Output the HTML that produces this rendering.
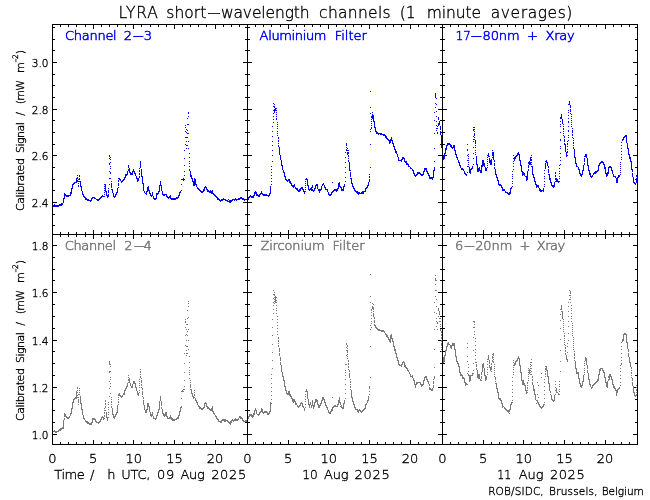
<!DOCTYPE html>
<html lang="en"><head><meta charset="utf-8"><title>LYRA short-wavelength channels</title>
<style>
html,body{margin:0;padding:0;background:#fff;}
body{width:650px;height:500px;overflow:hidden;}
svg{display:block;will-change:transform;}
svg text{font-family:"DejaVu Sans Light","DejaVu Sans","Liberation Sans",sans-serif;font-weight:200;stroke-width:0.35px;}
</style></head>
<body>
<svg width="650" height="500" viewBox="0 0 650 500">
<rect width="650" height="500" fill="#fff"/>
<g shape-rendering="crispEdges">
<rect x="52" y="24" width="1" height="421" fill="#000"/>
<rect x="247" y="24" width="1" height="421" fill="#000"/>
<rect x="442" y="24" width="1" height="421" fill="#000"/>
<rect x="637" y="24" width="1" height="421" fill="#000"/>
<rect x="52" y="24" width="586" height="1" fill="#000"/>
<rect x="52" y="234" width="586" height="1" fill="#000"/>
<rect x="52" y="444" width="586" height="1" fill="#000"/>
<rect x="60" y="25" width="1" height="2" fill="#000"/>
<rect x="60" y="232" width="1" height="5" fill="#000"/>
<rect x="60" y="442" width="1" height="2" fill="#000"/>
<rect x="68" y="25" width="1" height="2" fill="#000"/>
<rect x="68" y="232" width="1" height="5" fill="#000"/>
<rect x="68" y="442" width="1" height="2" fill="#000"/>
<rect x="76" y="25" width="1" height="2" fill="#000"/>
<rect x="76" y="232" width="1" height="5" fill="#000"/>
<rect x="76" y="442" width="1" height="2" fill="#000"/>
<rect x="85" y="25" width="1" height="2" fill="#000"/>
<rect x="85" y="232" width="1" height="5" fill="#000"/>
<rect x="85" y="442" width="1" height="2" fill="#000"/>
<rect x="93" y="25" width="1" height="4" fill="#000"/>
<rect x="93" y="230" width="1" height="9" fill="#000"/>
<rect x="93" y="440" width="1" height="4" fill="#000"/>
<rect x="101" y="25" width="1" height="2" fill="#000"/>
<rect x="101" y="232" width="1" height="5" fill="#000"/>
<rect x="101" y="442" width="1" height="2" fill="#000"/>
<rect x="109" y="25" width="1" height="2" fill="#000"/>
<rect x="109" y="232" width="1" height="5" fill="#000"/>
<rect x="109" y="442" width="1" height="2" fill="#000"/>
<rect x="117" y="25" width="1" height="2" fill="#000"/>
<rect x="117" y="232" width="1" height="5" fill="#000"/>
<rect x="117" y="442" width="1" height="2" fill="#000"/>
<rect x="125" y="25" width="1" height="2" fill="#000"/>
<rect x="125" y="232" width="1" height="5" fill="#000"/>
<rect x="125" y="442" width="1" height="2" fill="#000"/>
<rect x="133" y="25" width="1" height="4" fill="#000"/>
<rect x="133" y="230" width="1" height="9" fill="#000"/>
<rect x="133" y="440" width="1" height="4" fill="#000"/>
<rect x="141" y="25" width="1" height="2" fill="#000"/>
<rect x="141" y="232" width="1" height="5" fill="#000"/>
<rect x="141" y="442" width="1" height="2" fill="#000"/>
<rect x="150" y="25" width="1" height="2" fill="#000"/>
<rect x="150" y="232" width="1" height="5" fill="#000"/>
<rect x="150" y="442" width="1" height="2" fill="#000"/>
<rect x="158" y="25" width="1" height="2" fill="#000"/>
<rect x="158" y="232" width="1" height="5" fill="#000"/>
<rect x="158" y="442" width="1" height="2" fill="#000"/>
<rect x="166" y="25" width="1" height="2" fill="#000"/>
<rect x="166" y="232" width="1" height="5" fill="#000"/>
<rect x="166" y="442" width="1" height="2" fill="#000"/>
<rect x="174" y="25" width="1" height="4" fill="#000"/>
<rect x="174" y="230" width="1" height="9" fill="#000"/>
<rect x="174" y="440" width="1" height="4" fill="#000"/>
<rect x="182" y="25" width="1" height="2" fill="#000"/>
<rect x="182" y="232" width="1" height="5" fill="#000"/>
<rect x="182" y="442" width="1" height="2" fill="#000"/>
<rect x="190" y="25" width="1" height="2" fill="#000"/>
<rect x="190" y="232" width="1" height="5" fill="#000"/>
<rect x="190" y="442" width="1" height="2" fill="#000"/>
<rect x="198" y="25" width="1" height="2" fill="#000"/>
<rect x="198" y="232" width="1" height="5" fill="#000"/>
<rect x="198" y="442" width="1" height="2" fill="#000"/>
<rect x="206" y="25" width="1" height="2" fill="#000"/>
<rect x="206" y="232" width="1" height="5" fill="#000"/>
<rect x="206" y="442" width="1" height="2" fill="#000"/>
<rect x="215" y="25" width="1" height="4" fill="#000"/>
<rect x="215" y="230" width="1" height="9" fill="#000"/>
<rect x="215" y="440" width="1" height="4" fill="#000"/>
<rect x="223" y="25" width="1" height="2" fill="#000"/>
<rect x="223" y="232" width="1" height="5" fill="#000"/>
<rect x="223" y="442" width="1" height="2" fill="#000"/>
<rect x="231" y="25" width="1" height="2" fill="#000"/>
<rect x="231" y="232" width="1" height="5" fill="#000"/>
<rect x="231" y="442" width="1" height="2" fill="#000"/>
<rect x="239" y="25" width="1" height="2" fill="#000"/>
<rect x="239" y="232" width="1" height="5" fill="#000"/>
<rect x="239" y="442" width="1" height="2" fill="#000"/>
<rect x="255" y="25" width="1" height="2" fill="#000"/>
<rect x="255" y="232" width="1" height="5" fill="#000"/>
<rect x="255" y="442" width="1" height="2" fill="#000"/>
<rect x="263" y="25" width="1" height="2" fill="#000"/>
<rect x="263" y="232" width="1" height="5" fill="#000"/>
<rect x="263" y="442" width="1" height="2" fill="#000"/>
<rect x="271" y="25" width="1" height="2" fill="#000"/>
<rect x="271" y="232" width="1" height="5" fill="#000"/>
<rect x="271" y="442" width="1" height="2" fill="#000"/>
<rect x="280" y="25" width="1" height="2" fill="#000"/>
<rect x="280" y="232" width="1" height="5" fill="#000"/>
<rect x="280" y="442" width="1" height="2" fill="#000"/>
<rect x="288" y="25" width="1" height="4" fill="#000"/>
<rect x="288" y="230" width="1" height="9" fill="#000"/>
<rect x="288" y="440" width="1" height="4" fill="#000"/>
<rect x="296" y="25" width="1" height="2" fill="#000"/>
<rect x="296" y="232" width="1" height="5" fill="#000"/>
<rect x="296" y="442" width="1" height="2" fill="#000"/>
<rect x="304" y="25" width="1" height="2" fill="#000"/>
<rect x="304" y="232" width="1" height="5" fill="#000"/>
<rect x="304" y="442" width="1" height="2" fill="#000"/>
<rect x="312" y="25" width="1" height="2" fill="#000"/>
<rect x="312" y="232" width="1" height="5" fill="#000"/>
<rect x="312" y="442" width="1" height="2" fill="#000"/>
<rect x="320" y="25" width="1" height="2" fill="#000"/>
<rect x="320" y="232" width="1" height="5" fill="#000"/>
<rect x="320" y="442" width="1" height="2" fill="#000"/>
<rect x="328" y="25" width="1" height="4" fill="#000"/>
<rect x="328" y="230" width="1" height="9" fill="#000"/>
<rect x="328" y="440" width="1" height="4" fill="#000"/>
<rect x="336" y="25" width="1" height="2" fill="#000"/>
<rect x="336" y="232" width="1" height="5" fill="#000"/>
<rect x="336" y="442" width="1" height="2" fill="#000"/>
<rect x="345" y="25" width="1" height="2" fill="#000"/>
<rect x="345" y="232" width="1" height="5" fill="#000"/>
<rect x="345" y="442" width="1" height="2" fill="#000"/>
<rect x="353" y="25" width="1" height="2" fill="#000"/>
<rect x="353" y="232" width="1" height="5" fill="#000"/>
<rect x="353" y="442" width="1" height="2" fill="#000"/>
<rect x="361" y="25" width="1" height="2" fill="#000"/>
<rect x="361" y="232" width="1" height="5" fill="#000"/>
<rect x="361" y="442" width="1" height="2" fill="#000"/>
<rect x="369" y="25" width="1" height="4" fill="#000"/>
<rect x="369" y="230" width="1" height="9" fill="#000"/>
<rect x="369" y="440" width="1" height="4" fill="#000"/>
<rect x="377" y="25" width="1" height="2" fill="#000"/>
<rect x="377" y="232" width="1" height="5" fill="#000"/>
<rect x="377" y="442" width="1" height="2" fill="#000"/>
<rect x="385" y="25" width="1" height="2" fill="#000"/>
<rect x="385" y="232" width="1" height="5" fill="#000"/>
<rect x="385" y="442" width="1" height="2" fill="#000"/>
<rect x="393" y="25" width="1" height="2" fill="#000"/>
<rect x="393" y="232" width="1" height="5" fill="#000"/>
<rect x="393" y="442" width="1" height="2" fill="#000"/>
<rect x="401" y="25" width="1" height="2" fill="#000"/>
<rect x="401" y="232" width="1" height="5" fill="#000"/>
<rect x="401" y="442" width="1" height="2" fill="#000"/>
<rect x="410" y="25" width="1" height="4" fill="#000"/>
<rect x="410" y="230" width="1" height="9" fill="#000"/>
<rect x="410" y="440" width="1" height="4" fill="#000"/>
<rect x="418" y="25" width="1" height="2" fill="#000"/>
<rect x="418" y="232" width="1" height="5" fill="#000"/>
<rect x="418" y="442" width="1" height="2" fill="#000"/>
<rect x="426" y="25" width="1" height="2" fill="#000"/>
<rect x="426" y="232" width="1" height="5" fill="#000"/>
<rect x="426" y="442" width="1" height="2" fill="#000"/>
<rect x="434" y="25" width="1" height="2" fill="#000"/>
<rect x="434" y="232" width="1" height="5" fill="#000"/>
<rect x="434" y="442" width="1" height="2" fill="#000"/>
<rect x="450" y="25" width="1" height="2" fill="#000"/>
<rect x="450" y="232" width="1" height="5" fill="#000"/>
<rect x="450" y="442" width="1" height="2" fill="#000"/>
<rect x="458" y="25" width="1" height="2" fill="#000"/>
<rect x="458" y="232" width="1" height="5" fill="#000"/>
<rect x="458" y="442" width="1" height="2" fill="#000"/>
<rect x="466" y="25" width="1" height="2" fill="#000"/>
<rect x="466" y="232" width="1" height="5" fill="#000"/>
<rect x="466" y="442" width="1" height="2" fill="#000"/>
<rect x="475" y="25" width="1" height="2" fill="#000"/>
<rect x="475" y="232" width="1" height="5" fill="#000"/>
<rect x="475" y="442" width="1" height="2" fill="#000"/>
<rect x="483" y="25" width="1" height="4" fill="#000"/>
<rect x="483" y="230" width="1" height="9" fill="#000"/>
<rect x="483" y="440" width="1" height="4" fill="#000"/>
<rect x="491" y="25" width="1" height="2" fill="#000"/>
<rect x="491" y="232" width="1" height="5" fill="#000"/>
<rect x="491" y="442" width="1" height="2" fill="#000"/>
<rect x="499" y="25" width="1" height="2" fill="#000"/>
<rect x="499" y="232" width="1" height="5" fill="#000"/>
<rect x="499" y="442" width="1" height="2" fill="#000"/>
<rect x="507" y="25" width="1" height="2" fill="#000"/>
<rect x="507" y="232" width="1" height="5" fill="#000"/>
<rect x="507" y="442" width="1" height="2" fill="#000"/>
<rect x="515" y="25" width="1" height="2" fill="#000"/>
<rect x="515" y="232" width="1" height="5" fill="#000"/>
<rect x="515" y="442" width="1" height="2" fill="#000"/>
<rect x="523" y="25" width="1" height="4" fill="#000"/>
<rect x="523" y="230" width="1" height="9" fill="#000"/>
<rect x="523" y="440" width="1" height="4" fill="#000"/>
<rect x="531" y="25" width="1" height="2" fill="#000"/>
<rect x="531" y="232" width="1" height="5" fill="#000"/>
<rect x="531" y="442" width="1" height="2" fill="#000"/>
<rect x="540" y="25" width="1" height="2" fill="#000"/>
<rect x="540" y="232" width="1" height="5" fill="#000"/>
<rect x="540" y="442" width="1" height="2" fill="#000"/>
<rect x="548" y="25" width="1" height="2" fill="#000"/>
<rect x="548" y="232" width="1" height="5" fill="#000"/>
<rect x="548" y="442" width="1" height="2" fill="#000"/>
<rect x="556" y="25" width="1" height="2" fill="#000"/>
<rect x="556" y="232" width="1" height="5" fill="#000"/>
<rect x="556" y="442" width="1" height="2" fill="#000"/>
<rect x="564" y="25" width="1" height="4" fill="#000"/>
<rect x="564" y="230" width="1" height="9" fill="#000"/>
<rect x="564" y="440" width="1" height="4" fill="#000"/>
<rect x="572" y="25" width="1" height="2" fill="#000"/>
<rect x="572" y="232" width="1" height="5" fill="#000"/>
<rect x="572" y="442" width="1" height="2" fill="#000"/>
<rect x="580" y="25" width="1" height="2" fill="#000"/>
<rect x="580" y="232" width="1" height="5" fill="#000"/>
<rect x="580" y="442" width="1" height="2" fill="#000"/>
<rect x="588" y="25" width="1" height="2" fill="#000"/>
<rect x="588" y="232" width="1" height="5" fill="#000"/>
<rect x="588" y="442" width="1" height="2" fill="#000"/>
<rect x="596" y="25" width="1" height="2" fill="#000"/>
<rect x="596" y="232" width="1" height="5" fill="#000"/>
<rect x="596" y="442" width="1" height="2" fill="#000"/>
<rect x="605" y="25" width="1" height="4" fill="#000"/>
<rect x="605" y="230" width="1" height="9" fill="#000"/>
<rect x="605" y="440" width="1" height="4" fill="#000"/>
<rect x="613" y="25" width="1" height="2" fill="#000"/>
<rect x="613" y="232" width="1" height="5" fill="#000"/>
<rect x="613" y="442" width="1" height="2" fill="#000"/>
<rect x="621" y="25" width="1" height="2" fill="#000"/>
<rect x="621" y="232" width="1" height="5" fill="#000"/>
<rect x="621" y="442" width="1" height="2" fill="#000"/>
<rect x="629" y="25" width="1" height="2" fill="#000"/>
<rect x="629" y="232" width="1" height="5" fill="#000"/>
<rect x="629" y="442" width="1" height="2" fill="#000"/>
<rect x="53" y="225" width="2" height="1" fill="#000"/>
<rect x="245" y="225" width="5" height="1" fill="#000"/>
<rect x="440" y="225" width="5" height="1" fill="#000"/>
<rect x="635" y="225" width="2" height="1" fill="#000"/>
<rect x="53" y="214" width="2" height="1" fill="#000"/>
<rect x="245" y="214" width="5" height="1" fill="#000"/>
<rect x="440" y="214" width="5" height="1" fill="#000"/>
<rect x="635" y="214" width="2" height="1" fill="#000"/>
<rect x="53" y="202" width="4" height="1" fill="#000"/>
<rect x="243" y="202" width="9" height="1" fill="#000"/>
<rect x="438" y="202" width="9" height="1" fill="#000"/>
<rect x="633" y="202" width="4" height="1" fill="#000"/>
<rect x="53" y="190" width="2" height="1" fill="#000"/>
<rect x="245" y="190" width="5" height="1" fill="#000"/>
<rect x="440" y="190" width="5" height="1" fill="#000"/>
<rect x="635" y="190" width="2" height="1" fill="#000"/>
<rect x="53" y="179" width="2" height="1" fill="#000"/>
<rect x="245" y="179" width="5" height="1" fill="#000"/>
<rect x="440" y="179" width="5" height="1" fill="#000"/>
<rect x="635" y="179" width="2" height="1" fill="#000"/>
<rect x="53" y="167" width="2" height="1" fill="#000"/>
<rect x="245" y="167" width="5" height="1" fill="#000"/>
<rect x="440" y="167" width="5" height="1" fill="#000"/>
<rect x="635" y="167" width="2" height="1" fill="#000"/>
<rect x="53" y="155" width="4" height="1" fill="#000"/>
<rect x="243" y="155" width="9" height="1" fill="#000"/>
<rect x="438" y="155" width="9" height="1" fill="#000"/>
<rect x="633" y="155" width="4" height="1" fill="#000"/>
<rect x="53" y="144" width="2" height="1" fill="#000"/>
<rect x="245" y="144" width="5" height="1" fill="#000"/>
<rect x="440" y="144" width="5" height="1" fill="#000"/>
<rect x="635" y="144" width="2" height="1" fill="#000"/>
<rect x="53" y="132" width="2" height="1" fill="#000"/>
<rect x="245" y="132" width="5" height="1" fill="#000"/>
<rect x="440" y="132" width="5" height="1" fill="#000"/>
<rect x="635" y="132" width="2" height="1" fill="#000"/>
<rect x="53" y="120" width="2" height="1" fill="#000"/>
<rect x="245" y="120" width="5" height="1" fill="#000"/>
<rect x="440" y="120" width="5" height="1" fill="#000"/>
<rect x="635" y="120" width="2" height="1" fill="#000"/>
<rect x="53" y="109" width="4" height="1" fill="#000"/>
<rect x="243" y="109" width="9" height="1" fill="#000"/>
<rect x="438" y="109" width="9" height="1" fill="#000"/>
<rect x="633" y="109" width="4" height="1" fill="#000"/>
<rect x="53" y="97" width="2" height="1" fill="#000"/>
<rect x="245" y="97" width="5" height="1" fill="#000"/>
<rect x="440" y="97" width="5" height="1" fill="#000"/>
<rect x="635" y="97" width="2" height="1" fill="#000"/>
<rect x="53" y="85" width="2" height="1" fill="#000"/>
<rect x="245" y="85" width="5" height="1" fill="#000"/>
<rect x="440" y="85" width="5" height="1" fill="#000"/>
<rect x="635" y="85" width="2" height="1" fill="#000"/>
<rect x="53" y="74" width="2" height="1" fill="#000"/>
<rect x="245" y="74" width="5" height="1" fill="#000"/>
<rect x="440" y="74" width="5" height="1" fill="#000"/>
<rect x="635" y="74" width="2" height="1" fill="#000"/>
<rect x="53" y="62" width="4" height="1" fill="#000"/>
<rect x="243" y="62" width="9" height="1" fill="#000"/>
<rect x="438" y="62" width="9" height="1" fill="#000"/>
<rect x="633" y="62" width="4" height="1" fill="#000"/>
<rect x="53" y="50" width="2" height="1" fill="#000"/>
<rect x="245" y="50" width="5" height="1" fill="#000"/>
<rect x="440" y="50" width="5" height="1" fill="#000"/>
<rect x="635" y="50" width="2" height="1" fill="#000"/>
<rect x="53" y="39" width="2" height="1" fill="#000"/>
<rect x="245" y="39" width="5" height="1" fill="#000"/>
<rect x="440" y="39" width="5" height="1" fill="#000"/>
<rect x="635" y="39" width="2" height="1" fill="#000"/>
<rect x="53" y="27" width="2" height="1" fill="#000"/>
<rect x="245" y="27" width="5" height="1" fill="#000"/>
<rect x="440" y="27" width="5" height="1" fill="#000"/>
<rect x="635" y="27" width="2" height="1" fill="#000"/>
<rect x="53" y="434" width="4" height="1" fill="#000"/>
<rect x="243" y="434" width="9" height="1" fill="#000"/>
<rect x="438" y="434" width="9" height="1" fill="#000"/>
<rect x="633" y="434" width="4" height="1" fill="#000"/>
<rect x="53" y="422" width="2" height="1" fill="#000"/>
<rect x="245" y="422" width="5" height="1" fill="#000"/>
<rect x="440" y="422" width="5" height="1" fill="#000"/>
<rect x="635" y="422" width="2" height="1" fill="#000"/>
<rect x="53" y="410" width="2" height="1" fill="#000"/>
<rect x="245" y="410" width="5" height="1" fill="#000"/>
<rect x="440" y="410" width="5" height="1" fill="#000"/>
<rect x="635" y="410" width="2" height="1" fill="#000"/>
<rect x="53" y="399" width="2" height="1" fill="#000"/>
<rect x="245" y="399" width="5" height="1" fill="#000"/>
<rect x="440" y="399" width="5" height="1" fill="#000"/>
<rect x="635" y="399" width="2" height="1" fill="#000"/>
<rect x="53" y="387" width="4" height="1" fill="#000"/>
<rect x="243" y="387" width="9" height="1" fill="#000"/>
<rect x="438" y="387" width="9" height="1" fill="#000"/>
<rect x="633" y="387" width="4" height="1" fill="#000"/>
<rect x="53" y="375" width="2" height="1" fill="#000"/>
<rect x="245" y="375" width="5" height="1" fill="#000"/>
<rect x="440" y="375" width="5" height="1" fill="#000"/>
<rect x="635" y="375" width="2" height="1" fill="#000"/>
<rect x="53" y="363" width="2" height="1" fill="#000"/>
<rect x="245" y="363" width="5" height="1" fill="#000"/>
<rect x="440" y="363" width="5" height="1" fill="#000"/>
<rect x="635" y="363" width="2" height="1" fill="#000"/>
<rect x="53" y="351" width="2" height="1" fill="#000"/>
<rect x="245" y="351" width="5" height="1" fill="#000"/>
<rect x="440" y="351" width="5" height="1" fill="#000"/>
<rect x="635" y="351" width="2" height="1" fill="#000"/>
<rect x="53" y="340" width="4" height="1" fill="#000"/>
<rect x="243" y="340" width="9" height="1" fill="#000"/>
<rect x="438" y="340" width="9" height="1" fill="#000"/>
<rect x="633" y="340" width="4" height="1" fill="#000"/>
<rect x="53" y="328" width="2" height="1" fill="#000"/>
<rect x="245" y="328" width="5" height="1" fill="#000"/>
<rect x="440" y="328" width="5" height="1" fill="#000"/>
<rect x="635" y="328" width="2" height="1" fill="#000"/>
<rect x="53" y="316" width="2" height="1" fill="#000"/>
<rect x="245" y="316" width="5" height="1" fill="#000"/>
<rect x="440" y="316" width="5" height="1" fill="#000"/>
<rect x="635" y="316" width="2" height="1" fill="#000"/>
<rect x="53" y="304" width="2" height="1" fill="#000"/>
<rect x="245" y="304" width="5" height="1" fill="#000"/>
<rect x="440" y="304" width="5" height="1" fill="#000"/>
<rect x="635" y="304" width="2" height="1" fill="#000"/>
<rect x="53" y="292" width="4" height="1" fill="#000"/>
<rect x="243" y="292" width="9" height="1" fill="#000"/>
<rect x="438" y="292" width="9" height="1" fill="#000"/>
<rect x="633" y="292" width="4" height="1" fill="#000"/>
<rect x="53" y="280" width="2" height="1" fill="#000"/>
<rect x="245" y="280" width="5" height="1" fill="#000"/>
<rect x="440" y="280" width="5" height="1" fill="#000"/>
<rect x="635" y="280" width="2" height="1" fill="#000"/>
<rect x="53" y="269" width="2" height="1" fill="#000"/>
<rect x="245" y="269" width="5" height="1" fill="#000"/>
<rect x="440" y="269" width="5" height="1" fill="#000"/>
<rect x="635" y="269" width="2" height="1" fill="#000"/>
<rect x="53" y="257" width="2" height="1" fill="#000"/>
<rect x="245" y="257" width="5" height="1" fill="#000"/>
<rect x="440" y="257" width="5" height="1" fill="#000"/>
<rect x="635" y="257" width="2" height="1" fill="#000"/>
<rect x="53" y="245" width="4" height="1" fill="#000"/>
<rect x="243" y="245" width="9" height="1" fill="#000"/>
<rect x="438" y="245" width="9" height="1" fill="#000"/>
<rect x="633" y="245" width="4" height="1" fill="#000"/>
</g>
<g shape-rendering="crispEdges">
<path d="M53 205h1M53 206h1M54 204h1M54 205h1M54 206h1M55 205h1M55 206h1M56 205h1M56 206h1M57 205h1M57 206h1M58 205h1M58 206h1M59 204h1M59 205h1M60 204h1M60 205h1M61 203h1M61 204h1M61 205h1M62 203h1M62 204h1M63 198h1M63 199h1M63 200h1M63 201h1M63 202h1M64 193h1M64 194h1M64 195h1M64 196h1M64 197h1M64 198h1M65 194h1M65 195h1M66 195h1M66 196h1M67 195h1M67 196h1M68 195h1M68 196h1M69 195h1M70 192h1M70 193h1M70 194h1M70 195h1M71 188h1M71 189h1M71 190h1M71 191h1M71 192h1M71 193h1M72 184h1M72 185h1M72 186h1M72 187h1M72 188h1M73 183h1M73 184h1M74 182h1M74 183h1M75 182h1M76 178h1M76 179h1M76 180h1M76 181h1M76 182h1M77 175h1M77 177h1M77 178h1M77 180h1M77 181h1M78 179h1M78 181h1M78 183h1M78 185h1M78 186h1M79 175h1M79 176h1M79 178h1M79 179h1M79 181h1M80 181h1M80 182h1M80 183h1M80 184h1M80 185h1M80 186h1M81 186h1M81 187h1M81 188h1M81 189h1M81 190h1M82 191h1M82 192h1M82 193h1M82 194h1M83 194h1M83 195h1M83 196h1M84 196h1M84 197h1M85 197h1M85 198h1M85 199h1M86 198h1M86 199h1M87 199h1M87 200h1M88 199h1M88 200h1M89 200h1M90 200h1M90 201h1M91 198h1M91 199h1M91 200h1M92 197h1M92 198h1M93 197h1M94 197h1M94 198h1M95 198h1M96 199h1M97 199h1M97 200h1M98 199h1M98 200h1M99 198h1M99 199h1M100 197h1M100 198h1M101 196h1M101 197h1M102 195h1M102 196h1M103 196h1M104 184h1M104 186h1M104 188h1M104 190h1M104 192h1M104 194h1M104 196h1M105 184h1M105 185h1M105 186h1M105 187h1M105 188h1M105 189h1M105 190h1M105 191h1M106 191h1M106 192h1M106 193h1M106 194h1M106 195h1M107 195h1M107 196h1M107 197h1M108 188h1M108 190h1M108 191h1M108 192h1M108 194h1M108 195h1M108 196h1M109 155h1M109 156h1M109 158h1M109 163h1M109 164h1M109 171h1M109 178h1M109 184h1M110 157h1M110 159h1M110 162h1M110 166h1M110 168h1M110 172h1M110 173h1M110 178h1M111 181h1M111 183h1M111 184h1M111 185h1M111 186h1M111 187h1M111 189h1M112 189h1M112 190h1M112 191h1M112 192h1M113 193h1M113 194h1M113 195h1M113 196h1M114 196h1M114 197h1M115 194h1M115 195h1M115 196h1M116 192h1M116 193h1M116 194h1M117 188h1M117 189h1M117 190h1M117 191h1M117 192h1M118 178h1M118 180h1M118 181h1M118 183h1M118 184h1M118 185h1M118 187h1M119 178h1M119 179h1M120 179h1M120 180h1M121 181h1M121 182h1M122 180h1M122 181h1M123 179h1M123 180h1M124 177h1M124 178h1M124 179h1M125 174h1M125 175h1M125 176h1M125 177h1M126 174h1M126 175h1M127 171h1M127 172h1M127 173h1M127 174h1M128 165h1M128 166h1M128 167h1M128 169h1M128 170h1M129 168h1M129 169h1M129 170h1M129 171h1M129 172h1M130 172h1M130 173h1M130 174h1M131 173h1M131 174h1M132 171h1M132 172h1M132 173h1M132 174h1M133 169h1M133 170h1M133 171h1M134 171h1M134 172h1M134 173h1M135 173h1M135 174h1M135 175h1M136 176h1M136 177h1M136 178h1M137 178h1M137 179h1M137 180h1M137 181h1M138 178h1M138 179h1M138 180h1M139 168h1M139 170h1M139 171h1M139 173h1M139 174h1M139 176h1M139 177h1M140 161h1M140 162h1M140 163h1M140 164h1M140 165h1M140 166h1M140 167h1M141 169h1M141 170h1M141 171h1M141 172h1M141 173h1M141 174h1M141 175h1M141 176h1M142 176h1M142 177h1M142 178h1M142 179h1M142 180h1M142 181h1M142 182h1M142 183h1M143 183h1M143 184h1M143 185h1M143 186h1M143 187h1M143 188h1M143 189h1M143 190h1M144 191h1M144 192h1M145 193h1M146 191h1M146 192h1M146 193h1M146 194h1M147 187h1M147 188h1M147 189h1M147 190h1M147 191h1M148 186h1M148 187h1M148 188h1M148 189h1M148 190h1M149 190h1M149 191h1M149 192h1M149 193h1M150 193h1M150 194h1M150 195h1M151 195h1M151 196h1M152 192h1M152 193h1M152 194h1M152 195h1M153 196h1M153 197h1M153 198h1M154 198h1M154 199h1M155 198h1M155 199h1M156 193h1M156 194h1M156 195h1M156 196h1M156 197h1M156 198h1M157 193h1M157 194h1M158 191h1M158 192h1M158 193h1M159 185h1M159 186h1M159 187h1M159 188h1M159 189h1M159 190h1M159 191h1M160 181h1M160 182h1M160 183h1M160 184h1M160 185h1M161 185h1M161 186h1M161 187h1M161 188h1M161 189h1M161 190h1M162 191h1M162 192h1M162 193h1M162 194h1M163 194h1M163 195h1M164 194h1M164 195h1M165 194h1M166 194h1M166 195h1M166 196h1M167 196h1M167 197h1M168 197h1M168 198h1M169 196h1M169 197h1M170 195h1M170 196h1M170 197h1M170 198h1M171 198h1M171 199h1M172 198h1M172 199h1M173 198h1M173 199h1M174 198h1M174 199h1M175 198h1M175 199h1M176 197h1M176 198h1M177 197h1M177 198h1M178 195h1M178 196h1M178 197h1M179 192h1M179 193h1M179 194h1M179 195h1M180 191h1M180 192h1M181 179h1M181 184h1M181 190h1M182 179h1M183 178h1M183 179h1M183 180h1M184 150h1M184 158h1M184 165h1M184 171h1M184 175h1M184 179h1M185 125h1M185 127h1M185 131h1M185 137h1M185 144h1M186 129h1M186 132h1M186 137h1M186 141h1M186 145h1M186 148h1M187 118h1M187 124h1M187 130h1M187 133h1M187 137h1M187 145h1M188 112h1M188 113h1M188 116h1M188 124h1M188 133h1M188 141h1M188 148h1M189 153h1M189 157h1M189 161h1M189 163h1M189 166h1M189 169h1M189 170h1M190 171h1M190 172h1M190 173h1M190 174h1M190 175h1M190 176h1M191 175h1M191 176h1M191 177h1M191 178h1M192 178h1M192 179h1M192 180h1M192 181h1M193 181h1M193 182h1M193 183h1M193 184h1M193 185h1M194 178h1M194 179h1M194 180h1M194 181h1M194 182h1M194 183h1M194 184h1M194 185h1M195 179h1M195 180h1M195 181h1M195 182h1M195 183h1M195 184h1M196 184h1M196 185h1M196 186h1M197 187h1M197 188h1M198 188h1M198 189h1M199 189h1M199 190h1M200 190h1M200 191h1M201 191h1M201 192h1M202 191h1M202 192h1M203 189h1M203 190h1M203 191h1M204 187h1M204 188h1M204 189h1M204 190h1M205 186h1M205 187h1M206 187h1M206 188h1M206 189h1M207 189h1M207 190h1M207 191h1M208 190h1M208 191h1M209 191h1M209 192h1M210 190h1M210 191h1M210 192h1M211 191h1M211 192h1M211 193h1M212 190h1M212 191h1M212 192h1M212 193h1M213 193h1M213 194h1M214 194h1M214 195h1M215 195h1M215 196h1M216 196h1M216 197h1M217 197h1M217 198h1M217 199h1M218 198h1M218 199h1M219 199h1M219 200h1M220 200h1M220 201h1M221 199h1M221 200h1M222 199h1M222 200h1M223 198h1M223 199h1M224 199h1M225 199h1M225 200h1M226 200h1M227 200h1M227 201h1M228 199h1M228 201h1M229 200h1M229 201h1M229 202h1M230 200h1M230 201h1M230 202h1M231 200h1M231 201h1M232 199h1M232 200h1M233 199h1M234 199h1M234 200h1M235 198h1M235 199h1M236 199h1M236 200h1M237 199h1M238 198h1M238 199h1M239 198h1M239 199h1M240 197h1M240 198h1M241 197h1M241 198h1M242 198h1M242 199h1M243 198h1M243 199h1M244 199h1M244 200h1M245 199h1M246 199h1" stroke="#0000ff" stroke-width="1" fill="none" transform="translate(0,0.5)"/>
<path d="M248 197h1M248 198h1M248 199h1M249 196h1M249 197h1M250 195h1M250 196h1M251 196h1M251 197h1M252 196h1M252 197h1M253 195h1M253 196h1M253 197h1M254 192h1M254 193h1M254 194h1M254 195h1M255 191h1M255 192h1M255 193h1M256 192h1M256 193h1M256 194h1M256 195h1M257 194h1M257 195h1M258 195h1M258 196h1M259 194h1M259 195h1M259 196h1M260 193h1M260 194h1M261 191h1M261 192h1M261 193h1M262 193h1M262 194h1M263 194h1M263 195h1M264 194h1M264 195h1M265 194h1M265 195h1M266 194h1M266 195h1M267 195h1M268 195h1M268 196h1M269 193h1M269 194h1M269 195h1M270 186h1M270 187h1M270 188h1M270 189h1M270 190h1M270 191h1M270 192h1M270 193h1M271 166h1M271 169h1M271 172h1M271 175h1M271 178h1M271 181h1M271 184h1M272 126h1M272 131h1M272 136h1M272 141h1M272 145h1M272 150h1M272 155h1M272 161h1M273 103h1M273 106h1M273 110h1M273 113h1M273 116h1M273 119h1M273 122h1M274 104h1M274 106h1M274 107h1M274 109h1M274 110h1M274 111h1M274 112h1M275 108h1M275 109h1M275 110h1M276 108h1M276 110h1M276 112h1M276 114h1M276 116h1M276 118h1M276 119h1M277 122h1M277 124h1M277 126h1M277 128h1M277 131h1M277 133h1M277 135h1M278 137h1M278 138h1M278 140h1M278 141h1M278 143h1M278 145h1M278 146h1M279 147h1M279 148h1M279 149h1M279 150h1M279 151h1M279 152h1M279 153h1M279 154h1M280 155h1M280 156h1M280 157h1M280 158h1M280 159h1M281 160h1M281 161h1M281 162h1M281 163h1M281 164h1M281 165h1M282 165h1M282 166h1M282 167h1M282 168h1M282 169h1M283 170h1M283 171h1M283 172h1M284 172h1M284 173h1M284 174h1M284 175h1M284 176h1M285 176h1M285 177h1M285 178h1M285 179h1M286 179h1M286 180h1M287 180h1M287 181h1M288 179h1M288 180h1M289 179h1M289 180h1M289 181h1M289 182h1M290 181h1M290 182h1M290 183h1M291 183h1M291 184h1M291 185h1M292 185h1M292 186h1M293 185h1M293 186h1M293 187h1M294 184h1M294 185h1M294 186h1M295 187h1M295 188h1M296 188h1M296 189h1M297 188h1M297 189h1M297 190h1M298 190h1M298 191h1M299 189h1M299 190h1M299 191h1M300 188h1M300 189h1M300 190h1M301 187h1M301 188h1M302 187h1M302 188h1M302 189h1M303 189h1M303 190h1M303 191h1M304 191h1M304 192h1M304 193h1M305 179h1M305 181h1M305 183h1M305 185h1M305 187h1M305 189h1M305 191h1M306 178h1M306 179h1M307 179h1M307 180h1M307 181h1M307 182h1M307 183h1M307 184h1M307 185h1M308 185h1M308 186h1M308 187h1M308 188h1M308 189h1M309 189h1M309 190h1M310 188h1M310 189h1M311 187h1M311 188h1M311 189h1M311 190h1M312 185h1M312 186h1M312 187h1M312 189h1M312 190h1M313 190h1M313 191h1M314 188h1M314 189h1M314 190h1M315 185h1M315 186h1M315 187h1M315 188h1M316 184h1M316 185h1M317 184h1M317 185h1M317 186h1M317 187h1M317 188h1M318 189h1M318 190h1M319 189h1M319 190h1M319 191h1M319 192h1M320 189h1M320 190h1M321 186h1M321 187h1M321 188h1M321 189h1M322 184h1M322 185h1M323 183h1M323 184h1M324 185h1M324 186h1M324 187h1M325 187h1M325 188h1M325 189h1M326 189h1M327 189h1M327 190h1M327 191h1M328 192h1M328 193h1M328 194h1M329 194h1M329 195h1M330 194h1M330 195h1M331 192h1M331 193h1M331 194h1M332 182h1M332 191h1M332 192h1M333 190h1M333 191h1M334 189h1M334 190h1M335 189h1M335 190h1M336 189h1M336 190h1M336 191h1M337 188h1M337 189h1M337 190h1M338 183h1M338 184h1M338 185h1M338 186h1M338 187h1M338 188h1M339 182h1M339 183h1M339 184h1M339 185h1M339 186h1M340 186h1M340 187h1M341 187h1M341 188h1M341 189h1M341 190h1M342 189h1M342 190h1M343 186h1M343 187h1M343 188h1M343 189h1M343 190h1M344 184h1M344 185h1M344 186h1M345 152h1M345 157h1M345 162h1M345 167h1M345 172h1M345 177h1M345 181h1M346 143h1M346 144h1M346 145h1M346 147h1M346 149h1M346 150h1M347 148h1M347 150h1M347 152h1M347 153h1M347 154h1M348 150h1M348 152h1M348 153h1M348 155h1M348 156h1M348 158h1M348 160h1M348 161h1M349 162h1M349 163h1M349 164h1M349 165h1M349 166h1M349 167h1M349 168h1M349 169h1M349 170h1M350 170h1M350 172h1M350 173h1M350 174h1M350 175h1M350 176h1M350 178h1M351 178h1M351 179h1M351 180h1M351 181h1M351 182h1M351 183h1M352 183h1M352 184h1M352 185h1M352 186h1M353 186h1M353 187h1M353 188h1M354 188h1M354 189h1M354 190h1M355 190h1M355 191h1M356 191h1M356 192h1M357 191h1M357 192h1M357 193h1M358 192h1M358 193h1M358 194h1M359 192h1M359 193h1M360 193h1M361 192h1M361 193h1M362 191h1M362 192h1M362 193h1M363 191h1M363 192h1M363 193h1M364 191h1M365 188h1M365 189h1M365 190h1M365 191h1M366 187h1M366 188h1M367 185h1M367 186h1M367 187h1M368 182h1M368 183h1M368 184h1M368 185h1M369 174h1M369 176h1M369 177h1M369 179h1M369 180h1M369 181h1M370 91h1M370 107h1M370 113h1M370 129h1M370 131h1M370 144h1M370 167h1M371 116h1M371 117h1M371 119h1M371 121h1M371 123h1M371 125h1M371 127h1M371 128h1M372 112h1M372 114h1M372 115h1M372 116h1M372 117h1M372 118h1M373 115h1M373 116h1M373 117h1M373 118h1M373 119h1M373 120h1M373 121h1M374 121h1M374 122h1M374 123h1M374 124h1M374 125h1M374 126h1M374 127h1M375 127h1M375 128h1M375 129h1M375 130h1M375 131h1M376 131h1M376 132h1M376 133h1M377 132h1M377 133h1M378 133h1M378 134h1M379 133h1M380 133h1M380 134h1M381 133h1M381 134h1M382 134h1M383 134h1M383 135h1M384 134h1M384 135h1M385 135h1M385 136h1M385 137h1M386 136h1M386 137h1M386 138h1M387 138h1M387 139h1M388 139h1M388 140h1M389 140h1M389 141h1M389 142h1M389 143h1M390 139h1M390 140h1M390 141h1M390 142h1M391 137h1M391 138h1M391 139h1M391 140h1M392 140h1M392 141h1M392 142h1M392 143h1M393 143h1M393 144h1M393 145h1M393 146h1M394 146h1M394 147h1M394 148h1M394 149h1M395 149h1M395 150h1M395 151h1M395 152h1M396 151h1M396 152h1M396 153h1M397 154h1M397 155h1M397 156h1M398 157h1M398 158h1M398 159h1M398 160h1M399 160h1M400 160h1M401 159h1M401 160h1M401 161h1M402 157h1M402 158h1M402 159h1M403 157h1M403 158h1M404 158h1M404 159h1M404 160h1M404 161h1M405 161h1M405 162h1M406 161h1M406 162h1M406 163h1M406 164h1M407 163h1M407 164h1M408 164h1M408 165h1M408 166h1M409 166h1M410 167h1M410 168h1M411 168h1M412 169h1M412 170h1M413 170h1M413 171h1M413 172h1M413 173h1M414 173h1M414 174h1M414 175h1M415 175h1M415 176h1M416 174h1M416 175h1M417 172h1M417 173h1M417 174h1M418 172h1M418 173h1M419 172h1M419 173h1M420 173h1M420 174h1M421 174h1M421 175h1M422 174h1M422 175h1M423 171h1M423 172h1M423 173h1M423 174h1M424 168h1M424 169h1M424 170h1M424 171h1M425 168h1M425 169h1M426 168h1M426 169h1M426 170h1M426 171h1M427 171h1M427 172h1M427 173h1M428 173h1M428 174h1M428 175h1M429 175h1M429 176h1M429 177h1M429 178h1M430 177h1M430 178h1M431 177h1M431 178h1M432 177h1M432 178h1M432 179h1M433 170h1M433 171h1M433 172h1M433 173h1M433 174h1M433 175h1M433 176h1M433 177h1M434 112h1M434 120h1M434 133h1M434 148h1M434 161h1M434 167h1M434 168h1M434 169h1M434 170h1M435 93h1M435 94h1M435 95h1M435 96h1M435 97h1M435 103h1M435 107h1M436 98h1M436 104h1M436 111h1M436 116h1M436 121h1M436 125h1M436 128h1M436 130h1M437 126h1M437 128h1M437 132h1M437 133h1M438 117h1M438 118h1M438 119h1M438 123h1M438 124h1M438 125h1M439 121h1M439 122h1M439 123h1M439 124h1M440 126h1M440 127h1M440 128h1M440 129h1M440 131h1M440 132h1M440 133h1M440 134h1M441 135h1M441 136h1M441 137h1M441 138h1M441 139h1M441 140h1M441 141h1M441 142h1M441 143h1M441 144h1M441 145h1M441 146h1M441 147h1" stroke="#0000ff" stroke-width="1" fill="none" transform="translate(0,0.5)"/>
<path d="M443 155h1M443 156h1M443 157h1M443 158h1M443 159h1M444 153h1M444 154h1M444 155h1M444 156h1M444 157h1M444 158h1M445 148h1M445 149h1M445 150h1M445 151h1M445 152h1M445 153h1M446 145h1M446 146h1M446 147h1M446 148h1M446 149h1M447 143h1M447 144h1M447 145h1M448 143h1M448 144h1M449 143h1M449 144h1M450 144h1M450 145h1M450 146h1M451 145h1M451 146h1M451 147h1M452 147h1M452 148h1M453 145h1M453 146h1M453 147h1M454 145h1M454 146h1M454 147h1M454 148h1M454 149h1M454 150h1M455 150h1M455 151h1M455 152h1M455 153h1M455 154h1M456 154h1M456 155h1M456 156h1M456 157h1M457 157h1M457 158h1M457 159h1M458 160h1M458 161h1M458 162h1M459 162h1M459 163h1M459 164h1M459 165h1M460 165h1M460 166h1M460 167h1M461 168h1M461 169h1M462 168h1M462 169h1M463 169h1M463 170h1M464 171h1M464 172h1M464 173h1M465 173h1M465 174h1M466 174h1M466 175h1M467 144h1M467 149h1M467 150h1M467 155h1M467 160h1M467 166h1M467 172h1M468 154h1M468 156h1M468 158h1M468 160h1M468 162h1M468 164h1M468 166h1M469 167h1M469 168h1M469 169h1M469 170h1M469 171h1M469 172h1M470 169h1M470 170h1M470 171h1M470 172h1M470 173h1M471 168h1M471 169h1M472 166h1M472 167h1M472 168h1M473 127h1M473 129h1M473 130h1M473 136h1M473 139h1M473 141h1M473 147h1M473 153h1M473 158h1M473 164h1M474 127h1M474 129h1M474 131h1M474 133h1M474 134h1M474 135h1M474 137h1M474 139h1M475 140h1M475 141h1M475 142h1M475 143h1M475 145h1M475 147h1M475 150h1M475 152h1M475 154h1M476 156h1M476 157h1M476 158h1M476 159h1M476 160h1M476 161h1M476 162h1M476 163h1M476 164h1M477 164h1M477 165h1M477 166h1M477 167h1M477 168h1M477 169h1M477 170h1M477 171h1M478 168h1M478 169h1M478 170h1M478 171h1M479 167h1M479 168h1M479 169h1M479 170h1M480 170h1M480 171h1M480 172h1M481 165h1M481 166h1M481 167h1M481 168h1M481 169h1M481 170h1M481 171h1M481 172h1M482 160h1M482 161h1M482 162h1M482 163h1M482 164h1M482 165h1M482 166h1M483 160h1M483 161h1M483 162h1M483 163h1M483 164h1M483 165h1M484 163h1M484 164h1M484 165h1M484 166h1M485 167h1M485 168h1M485 169h1M485 170h1M486 168h1M486 169h1M486 170h1M487 155h1M487 157h1M487 159h1M487 161h1M487 163h1M487 165h1M487 167h1M488 153h1M488 154h1M488 155h1M488 156h1M489 156h1M489 158h1M489 159h1M489 160h1M489 161h1M489 162h1M490 160h1M490 161h1M490 162h1M490 163h1M490 164h1M491 159h1M491 160h1M491 161h1M491 162h1M491 163h1M491 164h1M492 150h1M492 152h1M492 153h1M492 154h1M492 155h1M492 157h1M493 152h1M493 153h1M493 154h1M493 155h1M493 156h1M493 157h1M493 158h1M493 159h1M494 160h1M494 161h1M494 163h1M494 164h1M494 165h1M494 167h1M494 168h1M495 169h1M495 170h1M495 171h1M495 172h1M495 173h1M495 174h1M496 174h1M496 175h1M496 176h1M496 177h1M497 177h1M497 178h1M497 179h1M497 180h1M498 180h1M498 181h1M498 182h1M498 183h1M498 184h1M499 184h1M499 185h1M500 184h1M500 185h1M501 185h1M501 186h1M501 187h1M502 187h1M502 188h1M502 189h1M502 190h1M503 189h1M503 190h1M504 189h1M504 190h1M505 191h1M505 192h1M506 192h1M507 192h1M507 193h1M508 193h1M508 194h1M509 192h1M509 193h1M509 194h1M510 188h1M510 189h1M510 190h1M510 191h1M510 192h1M510 193h1M511 187h1M511 188h1M512 171h1M512 174h1M512 176h1M512 178h1M512 181h1M512 183h1M512 186h1M513 155h1M513 158h1M513 161h1M513 163h1M513 166h1M513 169h1M514 157h1M514 158h1M514 159h1M514 160h1M515 156h1M515 157h1M515 158h1M516 155h1M516 156h1M517 153h1M517 154h1M517 155h1M518 152h1M518 153h1M518 154h1M519 154h1M519 155h1M519 156h1M519 157h1M519 158h1M519 159h1M519 160h1M520 160h1M520 161h1M520 162h1M520 163h1M520 164h1M520 165h1M521 165h1M521 166h1M521 167h1M521 168h1M521 169h1M521 170h1M521 171h1M522 171h1M522 172h1M522 173h1M522 174h1M522 175h1M523 172h1M523 173h1M523 174h1M524 173h1M524 174h1M524 175h1M525 176h1M526 176h1M526 177h1M526 178h1M526 179h1M526 180h1M527 171h1M527 172h1M527 173h1M527 174h1M527 175h1M527 176h1M527 177h1M527 178h1M527 179h1M528 162h1M528 163h1M528 165h1M528 166h1M528 167h1M528 169h1M528 170h1M529 161h1M529 162h1M529 163h1M529 164h1M530 157h1M530 158h1M530 159h1M530 160h1M530 162h1M530 163h1M530 164h1M531 155h1M531 157h1M531 159h1M531 160h1M531 162h1M531 164h1M531 166h1M532 166h1M532 167h1M532 168h1M532 169h1M532 170h1M532 171h1M532 172h1M532 173h1M532 174h1M533 174h1M533 175h1M533 176h1M533 177h1M534 177h1M534 178h1M534 179h1M534 180h1M534 181h1M535 181h1M535 182h1M535 183h1M535 184h1M536 184h1M536 185h1M536 186h1M536 187h1M537 185h1M537 186h1M538 185h1M538 186h1M538 187h1M539 188h1M539 189h1M539 190h1M540 189h1M540 190h1M540 191h1M541 190h1M541 191h1M542 190h1M543 188h1M543 189h1M543 190h1M543 191h1M544 170h1M544 173h1M544 176h1M544 178h1M544 181h1M544 184h1M544 186h1M545 161h1M545 163h1M545 164h1M545 165h1M545 166h1M545 167h1M545 168h1M546 160h1M546 161h1M546 162h1M547 162h1M547 163h1M547 164h1M547 165h1M548 166h1M548 167h1M548 169h1M548 170h1M548 171h1M548 172h1M548 174h1M549 174h1M549 175h1M549 176h1M549 177h1M549 178h1M549 179h1M550 178h1M550 179h1M550 180h1M550 181h1M550 182h1M551 182h1M551 183h1M551 184h1M551 185h1M552 185h1M552 186h1M553 185h1M553 186h1M553 187h1M554 182h1M554 183h1M554 184h1M554 185h1M554 186h1M555 172h1M555 173h1M555 175h1M555 176h1M555 178h1M555 179h1M555 181h1M556 178h1M556 179h1M556 180h1M556 181h1M557 179h1M557 180h1M557 181h1M558 181h1M558 182h1M559 165h1M559 168h1M559 171h1M559 173h1M559 176h1M559 178h1M559 181h1M560 117h1M560 118h1M560 121h1M560 124h1M560 126h1M560 132h1M560 139h1M560 140h1M560 146h1M560 148h1M560 153h1M560 157h1M560 160h1M560 164h1M561 114h1M561 115h1M561 116h1M561 117h1M561 118h1M562 119h1M562 120h1M562 121h1M562 122h1M562 123h1M563 124h1M563 126h1M563 128h1M563 129h1M563 131h1M563 133h1M563 135h1M564 136h1M564 137h1M564 139h1M564 140h1M564 141h1M564 143h1M564 144h1M565 144h1M565 145h1M565 146h1M565 147h1M565 148h1M565 149h1M565 150h1M565 151h1M566 152h1M566 153h1M566 154h1M566 155h1M566 156h1M567 141h1M567 143h1M567 144h1M567 146h1M567 149h1M567 151h1M567 152h1M567 155h1M568 104h1M568 110h1M568 112h1M568 115h1M568 118h1M568 121h1M568 122h1M568 126h1M568 130h1M568 131h1M568 135h1M568 137h1M568 140h1M569 101h1M569 102h1M569 103h1M569 104h1M570 105h1M570 106h1M570 107h1M570 109h1M570 110h1M570 111h1M570 113h1M571 114h1M571 116h1M571 118h1M571 120h1M571 122h1M571 124h1M571 126h1M572 128h1M572 130h1M572 131h1M572 132h1M572 134h1M572 135h1M572 137h1M573 138h1M573 140h1M573 142h1M573 143h1M573 145h1M573 147h1M573 148h1M574 149h1M574 150h1M574 151h1M574 152h1M574 153h1M574 154h1M574 155h1M574 156h1M574 157h1M575 157h1M575 158h1M575 159h1M575 160h1M575 161h1M575 162h1M575 163h1M576 163h1M576 164h1M576 165h1M576 166h1M577 166h1M578 167h1M578 168h1M578 169h1M579 169h1M579 170h1M579 171h1M579 172h1M579 173h1M580 173h1M580 174h1M580 175h1M581 174h1M581 175h1M581 176h1M582 170h1M582 171h1M582 172h1M582 173h1M582 174h1M583 165h1M583 166h1M583 167h1M583 168h1M583 169h1M583 170h1M584 156h1M584 158h1M584 159h1M584 160h1M584 161h1M584 163h1M584 164h1M585 154h1M585 155h1M585 156h1M586 154h1M586 155h1M586 156h1M586 157h1M587 158h1M587 159h1M587 160h1M587 161h1M587 162h1M587 163h1M587 164h1M587 165h1M588 165h1M588 166h1M588 167h1M588 168h1M588 169h1M588 170h1M589 170h1M589 171h1M589 172h1M589 173h1M589 174h1M590 173h1M590 174h1M590 175h1M590 176h1M591 176h1M591 177h1M592 175h1M592 176h1M593 173h1M593 174h1M594 172h1M594 173h1M595 171h1M595 172h1M595 173h1M596 171h1M596 172h1M597 170h1M597 171h1M598 165h1M598 166h1M598 167h1M598 168h1M598 169h1M598 170h1M599 163h1M599 164h1M599 165h1M600 162h1M600 163h1M601 161h1M601 162h1M602 161h1M602 162h1M603 162h1M603 163h1M603 164h1M604 164h1M604 165h1M604 166h1M604 167h1M604 168h1M605 167h1M605 168h1M605 169h1M605 170h1M605 171h1M605 172h1M605 173h1M606 173h1M606 174h1M606 175h1M606 176h1M607 172h1M607 173h1M607 174h1M607 175h1M608 167h1M608 168h1M608 169h1M608 170h1M608 171h1M608 172h1M608 173h1M609 166h1M609 167h1M610 166h1M610 167h1M611 167h1M611 168h1M611 169h1M611 170h1M612 170h1M612 171h1M612 172h1M612 173h1M613 174h1M613 175h1M613 176h1M614 176h1M615 176h1M615 177h1M616 178h1M616 179h1M616 180h1M616 181h1M616 182h1M617 177h1M617 178h1M617 179h1M617 180h1M617 181h1M617 182h1M618 175h1M618 176h1M618 177h1M619 175h1M619 176h1M620 162h1M620 164h1M620 166h1M620 168h1M620 170h1M620 172h1M620 174h1M621 142h1M621 145h1M621 148h1M621 151h1M621 154h1M621 157h1M621 159h1M622 139h1M622 140h1M623 137h1M623 138h1M623 139h1M624 136h1M624 137h1M625 135h1M625 136h1M626 135h1M626 136h1M626 137h1M626 138h1M626 139h1M626 140h1M626 141h1M626 142h1M627 143h1M627 144h1M627 145h1M627 146h1M627 147h1M627 148h1M628 148h1M628 149h1M628 150h1M628 151h1M628 152h1M628 153h1M628 154h1M629 154h1M629 155h1M629 156h1M629 157h1M629 158h1M630 157h1M630 158h1M630 159h1M630 160h1M630 161h1M631 161h1M631 162h1M631 163h1M631 164h1M631 165h1M631 166h1M631 167h1M631 168h1M631 169h1M632 169h1M632 170h1M632 171h1M632 173h1M632 174h1M632 175h1M632 176h1M633 177h1M633 178h1M633 179h1M633 180h1M633 181h1M633 182h1M634 182h1M634 183h1M635 183h1M635 184h1M636 175h1M636 176h1M636 178h1M636 179h1M636 180h1M636 181h1M636 182h1" stroke="#0000ff" stroke-width="1" fill="none" transform="translate(0,0.5)"/>
<path d="M53 431h1M54 430h1M54 431h1M55 431h1M55 432h1M56 431h1M56 432h1M57 431h1M58 430h1M58 431h1M59 429h1M59 430h1M60 428h1M60 429h1M60 430h1M61 428h1M61 429h1M62 427h1M62 428h1M63 420h1M63 421h1M63 422h1M63 423h1M63 424h1M63 425h1M63 426h1M63 427h1M63 428h1M64 413h1M64 414h1M64 415h1M64 416h1M64 418h1M64 419h1M65 414h1M65 415h1M65 416h1M66 416h1M66 417h1M67 417h1M67 418h1M68 417h1M68 418h1M69 416h1M69 417h1M70 413h1M70 414h1M70 415h1M71 408h1M71 409h1M71 410h1M71 411h1M71 412h1M71 413h1M72 402h1M72 403h1M72 404h1M72 405h1M72 406h1M72 407h1M72 408h1M73 399h1M73 400h1M73 401h1M73 402h1M74 398h1M74 399h1M75 397h1M75 398h1M76 391h1M76 392h1M76 393h1M76 394h1M76 395h1M76 396h1M76 397h1M76 398h1M77 387h1M77 388h1M77 390h1M77 392h1M77 395h1M77 397h1M78 394h1M78 397h1M78 399h1M78 400h1M78 401h1M78 402h1M78 404h1M79 388h1M79 390h1M79 392h1M79 394h1M80 396h1M80 397h1M80 398h1M80 399h1M80 400h1M80 401h1M80 402h1M80 403h1M81 403h1M81 404h1M81 405h1M81 406h1M81 407h1M81 408h1M81 409h1M82 409h1M82 410h1M82 411h1M82 412h1M82 413h1M82 414h1M83 415h1M83 416h1M83 417h1M83 418h1M84 418h1M84 419h1M85 420h1M85 421h1M86 421h1M86 422h1M87 421h1M87 422h1M87 423h1M88 422h1M88 423h1M89 423h1M89 424h1M90 423h1M90 424h1M91 422h1M91 423h1M91 424h1M92 418h1M92 419h1M92 420h1M92 421h1M92 422h1M93 418h1M93 419h1M94 418h1M94 419h1M95 419h1M95 420h1M95 421h1M96 421h1M96 422h1M97 422h1M98 422h1M98 423h1M99 421h1M99 422h1M100 419h1M100 420h1M100 421h1M101 417h1M101 418h1M101 419h1M102 416h1M102 417h1M103 417h1M103 418h1M103 419h1M104 408h1M104 410h1M104 412h1M104 413h1M104 415h1M104 416h1M104 418h1M105 400h1M105 401h1M105 403h1M105 404h1M105 406h1M105 407h1M105 410h1M106 412h1M106 413h1M106 414h1M106 415h1M106 416h1M106 417h1M107 417h1M107 418h1M107 419h1M107 420h1M108 402h1M108 404h1M108 407h1M108 409h1M108 412h1M108 414h1M108 417h1M109 361h1M109 362h1M109 363h1M109 364h1M109 371h1M109 372h1M109 381h1M109 388h1M109 396h1M110 364h1M110 366h1M110 371h1M110 377h1M110 379h1M110 383h1M110 386h1M110 393h1M111 397h1M111 399h1M111 401h1M111 402h1M111 404h1M111 406h1M111 407h1M112 408h1M112 409h1M112 410h1M112 411h1M112 412h1M112 413h1M112 414h1M113 414h1M113 415h1M113 416h1M113 417h1M114 416h1M114 417h1M114 418h1M115 414h1M115 415h1M115 416h1M116 412h1M116 413h1M116 414h1M117 405h1M117 406h1M117 407h1M117 408h1M117 409h1M117 410h1M117 411h1M117 412h1M118 394h1M118 395h1M118 397h1M118 399h1M118 401h1M118 402h1M118 404h1M119 393h1M119 394h1M119 395h1M120 395h1M120 396h1M121 396h1M121 397h1M122 395h1M122 396h1M123 393h1M123 394h1M124 390h1M124 391h1M124 392h1M124 393h1M124 394h1M125 388h1M125 389h1M125 390h1M126 386h1M126 387h1M126 388h1M127 383h1M127 384h1M127 385h1M127 386h1M128 375h1M128 377h1M128 379h1M128 380h1M128 382h1M129 378h1M129 379h1M129 380h1M129 381h1M129 382h1M130 383h1M130 384h1M130 385h1M131 386h1M131 387h1M132 384h1M132 385h1M132 386h1M132 387h1M133 381h1M133 382h1M133 383h1M134 381h1M134 382h1M134 383h1M135 383h1M135 384h1M135 385h1M135 386h1M135 387h1M136 387h1M136 388h1M136 389h1M136 390h1M137 391h1M137 392h1M137 393h1M137 394h1M138 393h1M138 394h1M138 395h1M139 379h1M139 381h1M139 383h1M139 385h1M139 387h1M139 390h1M139 392h1M140 369h1M140 371h1M140 372h1M140 374h1M140 376h1M140 377h1M141 378h1M141 380h1M141 381h1M141 382h1M141 384h1M141 385h1M141 387h1M142 388h1M142 389h1M142 391h1M142 392h1M142 393h1M142 394h1M142 396h1M143 397h1M143 398h1M143 400h1M143 401h1M143 402h1M143 403h1M143 404h1M144 405h1M144 406h1M144 407h1M144 408h1M144 409h1M145 410h1M145 411h1M145 412h1M146 409h1M146 410h1M146 411h1M146 412h1M147 403h1M147 404h1M147 405h1M147 406h1M147 407h1M147 408h1M147 409h1M148 403h1M148 404h1M148 405h1M148 406h1M149 406h1M149 407h1M149 408h1M149 409h1M149 410h1M149 411h1M150 412h1M150 413h1M150 414h1M150 415h1M151 414h1M151 415h1M151 416h1M152 412h1M152 413h1M152 414h1M152 415h1M153 416h1M153 417h1M153 418h1M154 418h1M155 418h1M155 419h1M156 415h1M156 416h1M156 417h1M156 418h1M157 412h1M157 413h1M157 414h1M157 415h1M158 409h1M158 410h1M158 411h1M158 412h1M159 401h1M159 402h1M159 403h1M159 404h1M159 405h1M159 406h1M159 407h1M159 408h1M159 409h1M160 396h1M160 397h1M160 398h1M160 399h1M160 400h1M161 401h1M161 402h1M161 403h1M161 404h1M161 405h1M161 407h1M161 408h1M162 409h1M162 410h1M162 411h1M162 412h1M162 413h1M163 413h1M163 414h1M163 415h1M164 414h1M164 415h1M164 416h1M165 412h1M165 413h1M165 414h1M165 415h1M166 412h1M166 413h1M166 414h1M166 415h1M166 416h1M167 416h1M167 417h1M167 418h1M168 418h1M169 417h1M169 418h1M170 415h1M170 416h1M170 417h1M170 418h1M171 417h1M171 418h1M171 419h1M172 418h1M172 419h1M172 420h1M173 419h1M173 420h1M174 419h1M174 420h1M175 419h1M176 418h1M176 419h1M177 417h1M177 418h1M178 415h1M178 416h1M178 417h1M178 418h1M179 411h1M179 412h1M179 413h1M179 414h1M179 415h1M180 407h1M180 408h1M180 409h1M180 410h1M180 411h1M181 391h1M181 398h1M181 406h1M181 407h1M182 390h1M182 391h1M183 389h1M183 391h1M184 353h1M184 363h1M184 372h1M184 380h1M184 386h1M184 389h1M185 319h1M185 321h1M185 322h1M185 327h1M185 335h1M185 345h1M186 324h1M186 329h1M186 334h1M186 340h1M186 346h1M186 350h1M186 353h1M186 355h1M187 310h1M187 318h1M187 324h1M187 331h1M187 335h1M187 346h1M187 353h1M188 301h1M188 303h1M188 306h1M188 317h1M188 329h1M188 340h1M188 349h1M189 356h1M189 362h1M189 367h1M189 370h1M189 372h1M189 374h1M189 378h1M190 380h1M190 382h1M190 384h1M190 385h1M190 386h1M190 387h1M190 389h1M191 389h1M191 390h1M191 391h1M191 392h1M191 393h1M192 393h1M192 394h1M192 395h1M192 396h1M193 396h1M193 397h1M193 398h1M194 390h1M194 392h1M194 394h1M194 395h1M194 397h1M195 398h1M195 399h1M195 400h1M196 400h1M196 401h1M196 402h1M197 402h1M197 403h1M197 404h1M198 405h1M198 406h1M199 406h1M199 407h1M199 408h1M200 407h1M200 408h1M201 408h1M201 409h1M202 408h1M202 409h1M203 407h1M203 408h1M204 403h1M204 404h1M204 405h1M204 406h1M204 407h1M205 402h1M205 403h1M206 403h1M206 404h1M206 405h1M206 406h1M207 406h1M207 407h1M207 408h1M208 407h1M208 408h1M209 408h1M209 409h1M210 409h1M210 410h1M211 408h1M211 409h1M211 410h1M212 406h1M212 407h1M212 408h1M212 409h1M212 410h1M212 411h1M213 411h1M213 412h1M213 413h1M214 413h1M214 414h1M215 415h1M215 416h1M216 416h1M216 417h1M216 418h1M217 418h1M217 419h1M218 419h1M218 420h1M218 421h1M219 421h1M220 421h1M220 422h1M221 420h1M221 421h1M221 422h1M222 419h1M222 420h1M223 419h1M223 420h1M224 419h1M224 420h1M224 421h1M225 419h1M225 420h1M225 421h1M226 420h1M227 420h1M227 421h1M228 421h1M228 422h1M229 422h1M229 423h1M230 421h1M230 422h1M230 423h1M230 424h1M231 420h1M231 421h1M231 422h1M232 419h1M232 420h1M233 420h1M233 421h1M234 419h1M234 420h1M235 418h1M235 419h1M235 420h1M236 419h1M236 420h1M237 419h1M237 420h1M238 418h1M238 419h1M239 416h1M239 417h1M240 416h1M240 417h1M240 418h1M241 417h1M241 418h1M242 418h1M242 419h1M242 420h1M243 420h1M243 421h1M244 421h1M245 420h1M245 421h1M246 420h1M246 421h1" stroke="#7a7a7a" stroke-width="1" fill="none" transform="translate(0,0.5)"/>
<path d="M248 416h1M248 417h1M248 418h1M249 414h1M249 415h1M249 416h1M250 414h1M250 415h1M251 414h1M251 415h1M251 416h1M252 415h1M252 416h1M252 417h1M253 413h1M253 414h1M253 415h1M253 416h1M254 410h1M254 411h1M254 412h1M254 413h1M254 414h1M255 408h1M255 409h1M255 410h1M256 410h1M256 411h1M256 412h1M256 413h1M257 414h1M258 414h1M258 415h1M259 412h1M259 413h1M259 414h1M260 411h1M260 412h1M261 408h1M261 409h1M261 410h1M261 411h1M262 409h1M262 410h1M262 411h1M262 412h1M263 412h1M263 413h1M264 411h1M264 412h1M265 411h1M265 412h1M266 411h1M266 412h1M267 412h1M267 413h1M267 414h1M268 413h1M268 414h1M269 411h1M269 412h1M269 413h1M270 402h1M270 403h1M270 404h1M270 405h1M270 406h1M270 407h1M270 408h1M270 409h1M270 410h1M270 411h1M271 374h1M271 378h1M271 383h1M271 387h1M271 391h1M271 395h1M271 399h1M271 403h1M272 319h1M272 327h1M272 335h1M272 344h1M272 352h1M272 360h1M272 368h1M273 290h1M273 294h1M273 298h1M273 302h1M273 305h1M273 309h1M273 313h1M274 292h1M274 294h1M274 295h1M274 297h1M274 299h1M274 301h1M274 303h1M275 296h1M275 297h1M275 298h1M275 299h1M275 300h1M275 301h1M275 302h1M276 297h1M276 300h1M276 302h1M276 305h1M276 308h1M276 310h1M276 313h1M277 316h1M277 319h1M277 322h1M277 325h1M277 328h1M277 331h1M277 334h1M278 337h1M278 338h1M278 340h1M278 341h1M278 343h1M278 345h1M278 346h1M279 348h1M279 349h1M279 350h1M279 351h1M279 353h1M279 354h1M279 355h1M280 357h1M280 358h1M280 359h1M280 360h1M280 362h1M280 363h1M280 364h1M281 365h1M281 366h1M281 367h1M281 368h1M281 369h1M281 370h1M281 371h1M282 372h1M282 373h1M282 374h1M282 375h1M282 376h1M283 376h1M283 377h1M283 378h1M283 379h1M283 380h1M284 380h1M284 381h1M284 382h1M284 383h1M284 384h1M284 385h1M284 386h1M285 386h1M285 387h1M285 388h1M285 389h1M285 390h1M286 390h1M286 391h1M286 392h1M286 393h1M287 393h1M287 394h1M288 391h1M288 392h1M288 393h1M288 394h1M289 391h1M289 392h1M289 393h1M289 394h1M289 395h1M290 394h1M290 395h1M290 396h1M291 396h1M291 397h1M291 398h1M292 398h1M292 399h1M292 400h1M292 401h1M293 399h1M293 400h1M293 401h1M293 402h1M294 399h1M294 400h1M294 401h1M295 401h1M295 402h1M295 403h1M295 404h1M296 403h1M296 404h1M297 405h1M297 406h1M298 406h1M298 407h1M299 405h1M299 406h1M300 403h1M300 404h1M300 405h1M301 402h1M301 403h1M302 403h1M302 404h1M302 405h1M302 406h1M303 406h1M303 407h1M304 408h1M304 409h1M304 410h1M305 391h1M305 394h1M305 396h1M305 399h1M305 401h1M305 404h1M305 407h1M306 389h1M306 390h1M306 391h1M307 391h1M307 392h1M307 393h1M307 394h1M307 395h1M307 396h1M307 397h1M307 398h1M308 399h1M308 400h1M308 401h1M308 402h1M308 403h1M308 404h1M309 404h1M309 405h1M309 406h1M309 407h1M310 402h1M310 403h1M310 404h1M311 405h1M311 406h1M311 407h1M312 400h1M312 401h1M312 402h1M312 403h1M312 404h1M312 405h1M313 405h1M313 406h1M313 407h1M313 408h1M314 402h1M314 403h1M314 404h1M314 405h1M314 406h1M315 399h1M315 400h1M315 401h1M315 402h1M316 399h1M316 400h1M316 401h1M317 400h1M317 401h1M317 402h1M317 403h1M317 404h1M318 404h1M318 405h1M318 406h1M318 407h1M319 405h1M319 406h1M319 407h1M320 403h1M320 404h1M320 405h1M321 400h1M321 401h1M321 402h1M321 403h1M322 397h1M322 398h1M322 399h1M322 400h1M323 397h1M323 398h1M323 399h1M324 399h1M324 400h1M324 401h1M324 402h1M325 402h1M325 403h1M325 404h1M325 405h1M326 405h1M326 406h1M326 407h1M327 407h1M327 408h1M327 409h1M328 410h1M328 411h1M328 412h1M329 412h1M329 413h1M330 411h1M330 412h1M330 413h1M331 409h1M331 410h1M331 411h1M332 397h1M332 407h1M332 408h1M332 409h1M332 410h1M333 406h1M333 407h1M334 405h1M334 406h1M335 405h1M335 406h1M336 406h1M337 404h1M337 405h1M337 406h1M338 400h1M338 401h1M338 402h1M338 403h1M338 404h1M339 397h1M339 398h1M339 399h1M339 400h1M339 401h1M339 402h1M340 402h1M340 403h1M340 404h1M340 406h1M341 405h1M341 406h1M341 407h1M342 407h1M342 408h1M343 403h1M343 404h1M343 405h1M343 406h1M343 407h1M343 408h1M344 400h1M344 401h1M344 402h1M344 403h1M345 364h1M345 370h1M345 372h1M345 375h1M345 379h1M345 384h1M345 389h1M345 393h1M345 398h1M346 343h1M346 344h1M346 347h1M346 350h1M346 355h1M346 364h1M347 345h1M347 346h1M347 348h1M347 350h1M347 351h1M347 352h1M347 354h1M347 356h1M347 358h1M348 360h1M348 361h1M348 363h1M348 364h1M348 366h1M348 367h1M348 369h1M349 370h1M349 371h1M349 373h1M349 374h1M349 375h1M349 376h1M349 377h1M350 379h1M350 381h1M350 382h1M350 384h1M350 386h1M350 387h1M350 389h1M351 390h1M351 391h1M351 392h1M351 393h1M351 394h1M351 395h1M351 396h1M351 397h1M352 397h1M352 398h1M352 399h1M352 400h1M352 401h1M353 401h1M353 402h1M353 403h1M353 404h1M354 404h1M354 405h1M354 406h1M354 407h1M355 407h1M355 408h1M355 409h1M356 409h1M357 409h1M357 410h1M357 411h1M358 410h1M358 411h1M358 412h1M359 409h1M359 410h1M360 410h1M360 411h1M361 411h1M361 412h1M362 410h1M362 411h1M363 409h1M363 410h1M364 408h1M364 409h1M365 404h1M365 405h1M365 406h1M365 407h1M365 408h1M366 403h1M366 404h1M367 400h1M367 401h1M367 402h1M368 396h1M368 397h1M368 398h1M368 399h1M368 400h1M369 386h1M369 387h1M369 388h1M369 391h1M369 394h1M370 274h1M370 296h1M370 302h1M370 325h1M370 329h1M370 346h1M370 377h1M371 309h1M371 310h1M371 312h1M371 315h1M371 318h1M371 321h1M371 323h1M371 327h1M372 303h1M372 306h1M372 307h1M372 308h1M373 304h1M373 307h1M373 308h1M373 309h1M373 311h1M373 313h1M373 314h1M373 315h1M373 316h1M374 317h1M374 318h1M374 320h1M374 321h1M374 322h1M374 324h1M374 325h1M375 325h1M375 326h1M375 327h1M376 327h1M376 328h1M377 328h1M377 329h1M378 329h1M378 330h1M379 329h1M379 330h1M380 330h1M381 330h1M381 331h1M382 330h1M382 331h1M383 330h1M383 331h1M384 331h1M384 332h1M385 333h1M385 334h1M386 334h1M386 335h1M386 336h1M387 335h1M387 336h1M387 337h1M388 337h1M388 338h1M388 339h1M389 339h1M389 340h1M389 341h1M390 335h1M390 336h1M390 337h1M390 338h1M390 339h1M390 340h1M390 341h1M390 342h1M391 334h1M391 335h1M391 336h1M391 337h1M391 338h1M392 338h1M392 339h1M392 340h1M392 341h1M393 341h1M393 342h1M393 343h1M393 344h1M393 345h1M393 346h1M394 346h1M394 347h1M394 348h1M394 349h1M394 350h1M395 349h1M395 350h1M395 351h1M395 352h1M395 353h1M396 353h1M396 354h1M396 355h1M396 356h1M396 357h1M397 357h1M397 358h1M397 359h1M397 360h1M398 360h1M398 361h1M398 362h1M398 363h1M398 364h1M399 364h1M399 365h1M400 365h1M401 364h1M401 365h1M401 366h1M402 362h1M402 363h1M402 364h1M403 361h1M403 362h1M404 362h1M404 363h1M404 364h1M404 365h1M404 366h1M405 365h1M405 366h1M405 367h1M406 367h1M406 368h1M407 368h1M407 369h1M407 370h1M408 370h1M408 371h1M409 372h1M409 373h1M410 374h1M410 375h1M410 376h1M411 376h1M412 375h1M412 376h1M412 377h1M413 378h1M413 379h1M413 380h1M414 380h1M414 381h1M414 382h1M414 383h1M414 384h1M415 384h1M415 385h1M415 386h1M415 387h1M416 382h1M416 383h1M416 384h1M417 382h1M417 383h1M418 382h1M419 382h1M420 382h1M420 383h1M420 384h1M421 384h1M421 385h1M421 386h1M422 384h1M422 385h1M423 380h1M423 381h1M423 382h1M423 383h1M423 384h1M424 377h1M424 378h1M424 379h1M424 380h1M425 376h1M425 377h1M426 376h1M426 377h1M426 378h1M426 379h1M427 379h1M427 380h1M427 381h1M428 381h1M428 382h1M428 383h1M429 384h1M429 385h1M429 387h1M429 388h1M429 389h1M430 388h1M430 389h1M431 389h1M431 390h1M432 388h1M432 389h1M432 390h1M433 379h1M433 381h1M433 382h1M433 383h1M433 385h1M433 386h1M433 387h1M434 302h1M434 312h1M434 329h1M434 349h1M434 367h1M434 376h1M434 377h1M434 378h1M435 275h1M435 278h1M435 279h1M435 280h1M435 284h1M435 290h1M435 296h1M436 280h1M436 290h1M436 299h1M436 306h1M436 313h1M436 318h1M436 321h1M436 326h1M437 322h1M437 323h1M437 329h1M438 308h1M438 309h1M438 310h1M438 316h1M439 311h1M439 312h1M439 313h1M439 314h1M439 318h1M439 321h1M440 318h1M440 321h1M440 324h1M440 326h1M440 329h1M440 330h1M441 331h1M441 332h1M441 334h1M441 335h1M441 337h1M441 338h1M441 340h1M441 341h1M441 343h1M441 344h1M441 345h1M441 347h1M441 349h1M441 351h1" stroke="#7a7a7a" stroke-width="1" fill="none" transform="translate(0,0.5)"/>
<path d="M443 357h1M443 358h1M443 359h1M443 360h1M443 361h1M443 362h1M444 355h1M444 356h1M444 357h1M444 358h1M444 359h1M444 360h1M444 361h1M445 350h1M445 351h1M445 352h1M445 353h1M445 354h1M445 355h1M446 346h1M446 347h1M446 348h1M446 349h1M446 350h1M447 343h1M447 344h1M447 345h1M447 346h1M448 342h1M448 343h1M448 344h1M449 344h1M450 345h1M450 346h1M450 347h1M451 345h1M451 346h1M451 347h1M451 348h1M452 343h1M452 344h1M452 345h1M453 343h1M453 344h1M453 345h1M454 343h1M454 344h1M454 345h1M454 346h1M454 347h1M454 348h1M454 349h1M455 349h1M455 350h1M455 351h1M455 352h1M455 353h1M455 354h1M455 355h1M455 356h1M456 356h1M456 357h1M456 358h1M456 359h1M456 360h1M456 361h1M457 361h1M457 362h1M457 363h1M458 363h1M458 364h1M458 365h1M458 366h1M459 366h1M459 367h1M459 368h1M459 369h1M459 370h1M459 371h1M459 372h1M460 372h1M460 373h1M460 374h1M460 375h1M461 374h1M461 375h1M462 375h1M462 376h1M462 377h1M462 378h1M463 377h1M463 378h1M464 378h1M464 379h1M464 380h1M464 381h1M464 382h1M465 382h1M465 383h1M465 384h1M465 385h1M466 383h1M466 384h1M467 343h1M467 347h1M467 356h1M467 361h1M467 373h1M467 384h1M468 364h1M468 367h1M468 371h1M468 374h1M468 375h1M469 375h1M469 376h1M469 377h1M469 378h1M469 379h1M469 380h1M469 381h1M470 375h1M470 376h1M470 377h1M470 378h1M470 379h1M470 380h1M471 375h1M472 373h1M472 374h1M472 375h1M473 321h1M473 327h1M473 337h1M473 350h1M473 363h1M473 370h1M473 373h1M474 321h1M474 322h1M474 324h1M474 327h1M474 331h1M474 334h1M475 338h1M475 341h1M475 345h1M475 349h1M475 352h1M475 355h1M475 359h1M475 362h1M476 362h1M476 364h1M476 365h1M476 366h1M476 368h1M476 369h1M477 370h1M477 371h1M477 372h1M477 373h1M477 374h1M477 375h1M477 376h1M477 377h1M478 374h1M478 375h1M478 376h1M478 377h1M478 378h1M479 374h1M479 375h1M479 376h1M479 377h1M479 378h1M480 379h1M480 380h1M481 372h1M481 373h1M481 374h1M481 376h1M481 377h1M481 378h1M481 380h1M482 364h1M482 365h1M482 366h1M482 367h1M482 368h1M482 369h1M482 370h1M482 371h1M483 363h1M483 364h1M483 365h1M483 366h1M483 367h1M484 368h1M484 369h1M484 370h1M484 371h1M484 372h1M484 373h1M484 374h1M484 375h1M485 375h1M485 376h1M485 377h1M485 378h1M485 379h1M485 380h1M486 376h1M486 377h1M486 378h1M486 379h1M487 359h1M487 361h1M487 364h1M487 367h1M487 369h1M487 372h1M487 374h1M488 355h1M488 356h1M488 357h1M488 358h1M488 359h1M489 360h1M489 361h1M489 362h1M489 363h1M489 365h1M489 366h1M489 367h1M490 367h1M490 368h1M490 369h1M490 370h1M491 363h1M491 364h1M491 366h1M491 367h1M491 368h1M491 369h1M491 371h1M492 354h1M492 356h1M492 357h1M492 358h1M492 360h1M492 361h1M493 353h1M493 354h1M493 355h1M493 357h1M493 359h1M493 361h1M493 362h1M494 364h1M494 366h1M494 368h1M494 370h1M494 372h1M494 374h1M494 376h1M495 377h1M495 378h1M495 379h1M495 381h1M495 383h1M496 383h1M496 384h1M496 385h1M496 386h1M496 387h1M496 388h1M497 388h1M497 389h1M497 390h1M497 391h1M497 392h1M498 392h1M498 393h1M498 394h1M498 395h1M498 396h1M498 397h1M498 398h1M499 398h1M499 399h1M500 398h1M500 399h1M500 400h1M501 400h1M501 401h1M501 402h1M501 403h1M502 403h1M502 404h1M502 405h1M502 406h1M502 407h1M503 406h1M504 407h1M504 408h1M505 408h1M505 409h1M506 409h1M506 410h1M507 410h1M507 411h1M508 410h1M508 411h1M508 412h1M509 409h1M509 410h1M509 411h1M509 413h1M510 404h1M510 405h1M510 406h1M510 407h1M510 408h1M510 409h1M511 402h1M511 403h1M511 404h1M512 377h1M512 381h1M512 385h1M512 389h1M512 392h1M512 396h1M512 400h1M512 402h1M513 360h1M513 362h1M513 365h1M513 367h1M513 369h1M513 372h1M513 374h1M514 363h1M514 364h1M514 365h1M515 361h1M515 362h1M515 363h1M515 364h1M516 360h1M516 361h1M517 358h1M517 359h1M517 360h1M518 356h1M518 357h1M518 358h1M519 358h1M519 359h1M519 360h1M519 361h1M519 362h1M519 363h1M519 364h1M519 365h1M520 365h1M520 366h1M520 367h1M520 368h1M520 369h1M520 370h1M520 371h1M520 372h1M521 372h1M521 373h1M521 374h1M521 375h1M521 376h1M521 377h1M521 378h1M521 379h1M521 380h1M522 380h1M522 381h1M522 382h1M522 383h1M522 384h1M523 380h1M523 381h1M523 382h1M523 383h1M523 384h1M524 383h1M524 384h1M524 385h1M525 385h1M525 386h1M525 387h1M525 388h1M525 389h1M525 390h1M526 390h1M526 391h1M526 392h1M526 393h1M527 382h1M527 383h1M527 385h1M527 387h1M527 388h1M527 390h1M527 392h1M528 368h1M528 370h1M528 372h1M528 374h1M528 376h1M528 378h1M528 380h1M529 369h1M529 370h1M529 371h1M529 372h1M529 373h1M530 362h1M530 364h1M530 366h1M530 368h1M530 370h1M530 372h1M530 374h1M531 359h1M531 362h1M531 365h1M531 368h1M531 371h1M531 374h1M532 376h1M532 377h1M532 379h1M532 380h1M532 382h1M532 383h1M532 384h1M533 385h1M533 386h1M533 387h1M533 388h1M533 389h1M533 390h1M534 389h1M534 390h1M534 391h1M534 392h1M534 393h1M534 394h1M535 394h1M535 395h1M535 396h1M535 397h1M535 398h1M535 399h1M536 400h1M536 403h1M537 382h1M537 394h1M537 400h1M537 401h1M537 402h1M538 385h1M538 397h1M538 402h1M538 403h1M538 404h1M539 404h1M539 405h1M539 406h1M540 406h1M540 407h1M541 373h1M541 377h1M541 407h1M541 408h1M542 406h1M542 407h1M543 404h1M543 405h1M543 406h1M544 379h1M544 382h1M544 386h1M544 390h1M544 394h1M544 398h1M544 402h1M544 404h1M545 366h1M545 368h1M545 369h1M545 371h1M545 373h1M545 374h1M545 376h1M546 366h1M546 367h1M546 368h1M546 369h1M546 370h1M547 370h1M547 371h1M547 372h1M547 373h1M547 374h1M547 375h1M547 376h1M548 376h1M548 377h1M548 378h1M548 379h1M548 380h1M548 381h1M548 382h1M548 383h1M549 383h1M549 384h1M549 385h1M549 386h1M549 387h1M549 388h1M549 389h1M549 390h1M550 391h1M550 392h1M550 394h1M551 395h1M551 396h1M551 397h1M551 398h1M551 399h1M552 399h1M552 400h1M553 400h1M553 401h1M554 395h1M554 396h1M554 397h1M554 398h1M554 399h1M554 400h1M555 381h1M555 384h1M555 387h1M555 390h1M555 394h1M556 388h1M556 389h1M556 390h1M556 391h1M556 392h1M557 392h1M558 393h1M558 394h1M559 381h1M559 384h1M559 386h1M559 389h1M559 391h1M559 394h1M560 309h1M560 314h1M560 320h1M560 328h1M560 339h1M560 350h1M560 361h1M560 371h1M561 305h1M561 306h1M561 307h1M561 308h1M561 309h1M561 311h1M562 311h1M562 312h1M562 313h1M562 314h1M562 315h1M562 316h1M562 317h1M562 318h1M563 319h1M563 321h1M563 323h1M563 325h1M563 327h1M563 329h1M563 331h1M564 333h1M564 335h1M564 336h1M564 338h1M564 340h1M564 342h1M564 344h1M565 345h1M565 347h1M565 348h1M565 350h1M565 351h1M565 353h1M565 354h1M566 355h1M566 356h1M566 357h1M566 358h1M566 359h1M567 343h1M567 346h1M567 352h1M567 359h1M567 360h1M567 361h1M568 302h1M568 306h1M568 311h1M568 316h1M568 321h1M568 326h1M568 333h1M568 340h1M569 290h1M569 295h1M569 299h1M570 291h1M570 292h1M570 293h1M570 295h1M570 297h1M570 299h1M570 302h1M571 305h1M571 308h1M571 310h1M571 313h1M571 316h1M571 318h1M571 321h1M572 323h1M572 325h1M572 327h1M572 329h1M572 331h1M572 333h1M572 335h1M573 337h1M573 339h1M573 341h1M573 343h1M573 345h1M573 347h1M573 349h1M574 351h1M574 353h1M574 354h1M574 355h1M574 357h1M574 358h1M574 360h1M575 361h1M575 362h1M575 363h1M575 364h1M575 365h1M575 366h1M575 367h1M575 368h1M576 368h1M576 369h1M576 370h1M576 371h1M576 372h1M576 373h1M577 372h1M577 373h1M578 372h1M578 373h1M578 374h1M578 375h1M578 376h1M578 377h1M578 378h1M579 378h1M579 379h1M579 380h1M579 381h1M579 382h1M579 383h1M580 383h1M580 384h1M580 385h1M580 386h1M581 385h1M581 386h1M581 387h1M582 381h1M582 382h1M582 383h1M582 384h1M582 385h1M583 375h1M583 376h1M583 377h1M583 378h1M583 379h1M583 380h1M583 381h1M584 361h1M584 363h1M584 365h1M584 368h1M584 370h1M584 372h1M584 374h1M585 357h1M585 358h1M585 359h1M585 360h1M586 358h1M586 359h1M586 360h1M586 361h1M586 362h1M586 363h1M586 364h1M587 365h1M587 366h1M587 367h1M587 368h1M587 370h1M587 371h1M587 372h1M588 373h1M588 374h1M588 375h1M588 376h1M588 377h1M588 378h1M588 379h1M589 379h1M589 380h1M589 381h1M589 382h1M589 383h1M589 384h1M590 384h1M590 385h1M590 386h1M591 387h1M591 388h1M592 385h1M592 386h1M592 387h1M593 384h1M593 385h1M594 383h1M594 384h1M595 382h1M595 383h1M596 381h1M596 382h1M597 379h1M597 380h1M597 381h1M598 374h1M598 375h1M598 376h1M598 377h1M598 378h1M598 379h1M598 380h1M599 369h1M599 370h1M599 371h1M599 372h1M599 373h1M599 374h1M600 368h1M600 369h1M600 370h1M601 368h1M602 368h1M602 369h1M602 370h1M603 370h1M603 371h1M603 372h1M604 372h1M604 373h1M604 374h1M604 375h1M604 376h1M604 377h1M605 377h1M605 378h1M605 379h1M605 380h1M605 381h1M605 382h1M606 382h1M606 383h1M606 384h1M606 385h1M606 386h1M607 381h1M607 382h1M607 383h1M607 384h1M607 385h1M607 386h1M607 387h1M608 376h1M608 377h1M608 379h1M608 380h1M609 374h1M609 375h1M609 376h1M609 377h1M609 378h1M609 379h1M610 374h1M610 375h1M610 376h1M611 376h1M611 377h1M611 378h1M611 379h1M612 379h1M612 380h1M612 381h1M612 382h1M612 383h1M612 384h1M613 384h1M613 385h1M613 386h1M613 387h1M614 386h1M614 387h1M614 388h1M615 388h1M615 389h1M615 390h1M616 390h1M616 391h1M616 392h1M616 393h1M616 394h1M616 395h1M617 389h1M617 390h1M617 391h1M617 392h1M618 388h1M618 389h1M619 387h1M619 388h1M620 365h1M620 368h1M620 371h1M620 375h1M620 378h1M620 382h1M620 385h1M621 342h1M621 346h1M621 349h1M621 353h1M621 357h1M621 360h1M621 363h1M621 364h1M622 339h1M622 340h1M622 341h1M623 334h1M623 335h1M623 336h1M623 337h1M623 338h1M623 339h1M623 340h1M624 333h1M624 334h1M625 333h1M625 334h1M626 334h1M626 335h1M626 336h1M626 337h1M626 338h1M626 339h1M626 340h1M626 341h1M626 342h1M627 342h1M627 343h1M627 344h1M627 345h1M627 346h1M627 347h1M627 348h1M628 349h1M628 350h1M628 351h1M628 353h1M628 354h1M628 355h1M628 356h1M629 357h1M629 358h1M629 359h1M629 360h1M629 361h1M629 362h1M630 362h1M630 363h1M630 364h1M630 365h1M630 366h1M631 367h1M631 368h1M631 370h1M631 372h1M631 373h1M631 375h1M631 377h1M632 378h1M632 379h1M632 380h1M632 382h1M632 383h1M632 384h1M632 385h1M633 386h1M633 387h1M633 388h1M633 389h1M633 390h1M633 391h1M633 392h1M634 392h1M634 393h1M634 394h1M634 395h1M635 395h1M635 396h1M636 385h1M636 387h1M636 389h1M636 390h1M636 392h1M636 394h1M636 395h1" stroke="#7a7a7a" stroke-width="1" fill="none" transform="translate(0,0.5)"/>
</g>
<g>
<text y="18" font-size="15.5" fill="#000" stroke="#000"><tspan x="118.60" textLength="39.20" lengthAdjust="spacing">LYRA</tspan> <tspan x="166.30" textLength="40.00" lengthAdjust="spacing">short</tspan><tspan x="206.45" textLength="15.10" lengthAdjust="spacingAndGlyphs">-</tspan><tspan x="220.90" textLength="88.70" lengthAdjust="spacing">wavelength</tspan> <tspan x="319.10" textLength="71.50" lengthAdjust="spacing">channels</tspan> <tspan x="399.70" textLength="16.00" lengthAdjust="spacingAndGlyphs">(1</tspan> <tspan x="426.80" textLength="54.30" lengthAdjust="spacing">minute</tspan> <tspan x="490.80" textLength="81.60" lengthAdjust="spacing">averages)</tspan></text>
<text y="40" font-size="13" fill="#0000ff" stroke="#0000ff" style="stroke-width:0.55px"><tspan x="65.10" textLength="51.60" lengthAdjust="spacing">Channel</tspan> <tspan x="123.80" textLength="9.30" lengthAdjust="spacing">2</tspan><tspan x="132.36" textLength="12.08" lengthAdjust="spacingAndGlyphs">-</tspan><tspan x="143.80" textLength="9.20" lengthAdjust="spacing">3</tspan></text>
<text y="40" font-size="13" fill="#0000ff" stroke="#0000ff" style="stroke-width:0.55px"><tspan x="259.60" textLength="66.90" lengthAdjust="spacing">Aluminium</tspan> <tspan x="334.70" textLength="32.10" lengthAdjust="spacing">Filter</tspan></text>
<text y="40" font-size="13" fill="#0000ff" stroke="#0000ff" style="stroke-width:0.55px"><tspan x="455.80" textLength="15.00" lengthAdjust="spacingAndGlyphs">17</tspan><tspan x="470.32" textLength="12.36" lengthAdjust="spacingAndGlyphs">-</tspan><tspan x="482.60" textLength="37.00" lengthAdjust="spacing">80nm</tspan> <tspan x="526.90" textLength="11.20" lengthAdjust="spacing">+</tspan> <tspan x="545.40" textLength="29.40" lengthAdjust="spacing">Xray</tspan></text>
<text y="250" font-size="13" fill="#7a7a7a" stroke="#7a7a7a" style="stroke-width:0.55px"><tspan x="64.70" textLength="51.40" lengthAdjust="spacing">Channel</tspan> <tspan x="124.30" textLength="9.60" lengthAdjust="spacing">2</tspan><tspan x="133.23" textLength="11.53" lengthAdjust="spacingAndGlyphs">-</tspan><tspan x="143.50" textLength="9.30" lengthAdjust="spacing">4</tspan></text>
<text y="250" font-size="13" fill="#7a7a7a" stroke="#7a7a7a" style="stroke-width:0.55px"><tspan x="260.40" textLength="64.20" lengthAdjust="spacing">Zirconium</tspan> <tspan x="332.40" textLength="32.10" lengthAdjust="spacing">Filter</tspan></text>
<text y="250" font-size="13" fill="#7a7a7a" stroke="#7a7a7a" style="stroke-width:0.55px"><tspan x="454.90" textLength="8.60" lengthAdjust="spacing">6</tspan><tspan x="463.40" textLength="11.81" lengthAdjust="spacingAndGlyphs">-</tspan><tspan x="475.20" textLength="37.10" lengthAdjust="spacing">20nm</tspan> <tspan x="519.40" textLength="11.40" lengthAdjust="spacing">+</tspan> <tspan x="536.70" textLength="28.50" lengthAdjust="spacing">Xray</tspan></text>
<text x="52.5" y="463" font-size="13" fill="#000" stroke="#000" text-anchor="middle">0</text>
<text x="93.1" y="463" font-size="13" fill="#000" stroke="#000" text-anchor="middle">5</text>
<text x="133.8" y="463" font-size="13" fill="#000" stroke="#000" text-anchor="middle">10</text>
<text x="174.4" y="463" font-size="13" fill="#000" stroke="#000" text-anchor="middle">15</text>
<text x="215.0" y="463" font-size="13" fill="#000" stroke="#000" text-anchor="middle">20</text>
<text x="247.5" y="463" font-size="13" fill="#000" stroke="#000" text-anchor="middle">0</text>
<text x="288.1" y="463" font-size="13" fill="#000" stroke="#000" text-anchor="middle">5</text>
<text x="328.8" y="463" font-size="13" fill="#000" stroke="#000" text-anchor="middle">10</text>
<text x="369.4" y="463" font-size="13" fill="#000" stroke="#000" text-anchor="middle">15</text>
<text x="410.0" y="463" font-size="13" fill="#000" stroke="#000" text-anchor="middle">20</text>
<text x="442.5" y="463" font-size="13" fill="#000" stroke="#000" text-anchor="middle">0</text>
<text x="483.1" y="463" font-size="13" fill="#000" stroke="#000" text-anchor="middle">5</text>
<text x="523.8" y="463" font-size="13" fill="#000" stroke="#000" text-anchor="middle">10</text>
<text x="564.4" y="463" font-size="13" fill="#000" stroke="#000" text-anchor="middle">15</text>
<text x="605.0" y="463" font-size="13" fill="#000" stroke="#000" text-anchor="middle">20</text>
<text y="479" font-size="13" fill="#000" stroke="#000"><tspan x="54.30" textLength="30.50" lengthAdjust="spacing">Time</tspan> <tspan x="90.00" textLength="11.30" lengthAdjust="spacing">/</tspan> <tspan x="107.20" textLength="8.10" lengthAdjust="spacing">h</tspan> <tspan x="121.30" textLength="29.20" lengthAdjust="spacing">UTC,</tspan> <tspan x="157.00" textLength="17.20" lengthAdjust="spacing">09</tspan> <tspan x="180.40" textLength="24.30" lengthAdjust="spacing">Aug</tspan> <tspan x="211.20" textLength="35.00" lengthAdjust="spacing">2025</tspan></text>
<text y="479" font-size="13" fill="#000" stroke="#000"><tspan x="302.30" textLength="15.50" lengthAdjust="spacingAndGlyphs">10</tspan> <tspan x="323.90" textLength="24.70" lengthAdjust="spacing">Aug</tspan> <tspan x="354.60" textLength="35.20" lengthAdjust="spacing">2025</tspan></text>
<text y="479" font-size="13" fill="#000" stroke="#000"><tspan x="497.30" textLength="13.90" lengthAdjust="spacingAndGlyphs">11</tspan> <tspan x="518.80" textLength="24.80" lengthAdjust="spacing">Aug</tspan> <tspan x="550.00" textLength="34.70" lengthAdjust="spacing">2025</tspan></text>
<text y="495" font-size="10.5" fill="#000" stroke="#000"><tspan x="488.20" textLength="55.50" lengthAdjust="spacing">ROB/SIDC,</tspan> <tspan x="549.10" textLength="48.40" lengthAdjust="spacing">Brussels,</tspan> <tspan x="601.70" textLength="42.00" lengthAdjust="spacing">Belgium</tspan></text>
<text x="48.5" y="207" font-size="10.5" fill="#000" stroke="#000" text-anchor="end">2.4</text>
<text x="48.5" y="160" font-size="10.5" fill="#000" stroke="#000" text-anchor="end">2.6</text>
<text x="48.5" y="114" font-size="10.5" fill="#000" stroke="#000" text-anchor="end">2.8</text>
<text x="48.5" y="67" font-size="10.5" fill="#000" stroke="#000" text-anchor="end">3.0</text>
<text x="48.5" y="439" font-size="10.5" fill="#000" stroke="#000" text-anchor="end">1.0</text>
<text x="48.5" y="392" font-size="10.5" fill="#000" stroke="#000" text-anchor="end">1.2</text>
<text x="48.5" y="345" font-size="10.5" fill="#000" stroke="#000" text-anchor="end">1.4</text>
<text x="48.5" y="297" font-size="10.5" fill="#000" stroke="#000" text-anchor="end">1.6</text>
<text x="48.5" y="250" font-size="10.5" fill="#000" stroke="#000" text-anchor="end">1.8</text>
<text transform="translate(23.5,210.3) rotate(-90)" y="0" font-size="11" fill="#000" stroke="#000"><tspan x="-0.60" textLength="52.80" lengthAdjust="spacing">Calibrated</tspan> <tspan x="57.30" textLength="30.70" lengthAdjust="spacing">Signal</tspan> <tspan x="94.60" textLength="8.80" lengthAdjust="spacing">/</tspan> <tspan x="106.10" textLength="24.40" lengthAdjust="spacing">(mW</tspan> <tspan x="137.20" textLength="6.20" lengthAdjust="spacing">m</tspan><tspan x="147.74" textLength="4.12" lengthAdjust="spacingAndGlyphs" y="-5.5" font-size="7.5">-</tspan><tspan x="151.40" textLength="4.40" lengthAdjust="spacing" y="-5.5" font-size="7.5">2</tspan><tspan x="156.00" textLength="6.40" lengthAdjust="spacing" y="0">)</tspan></text>
<text transform="translate(23.5,420.3) rotate(-90)" y="0" font-size="11" fill="#000" stroke="#000"><tspan x="-0.60" textLength="52.80" lengthAdjust="spacing">Calibrated</tspan> <tspan x="57.30" textLength="30.70" lengthAdjust="spacing">Signal</tspan> <tspan x="94.60" textLength="8.80" lengthAdjust="spacing">/</tspan> <tspan x="106.10" textLength="24.40" lengthAdjust="spacing">(mW</tspan> <tspan x="137.20" textLength="6.20" lengthAdjust="spacing">m</tspan><tspan x="147.74" textLength="4.12" lengthAdjust="spacingAndGlyphs" y="-5.5" font-size="7.5">-</tspan><tspan x="151.40" textLength="4.40" lengthAdjust="spacing" y="-5.5" font-size="7.5">2</tspan><tspan x="156.00" textLength="6.40" lengthAdjust="spacing" y="0">)</tspan></text>
</g>
</svg>
</body></html>
